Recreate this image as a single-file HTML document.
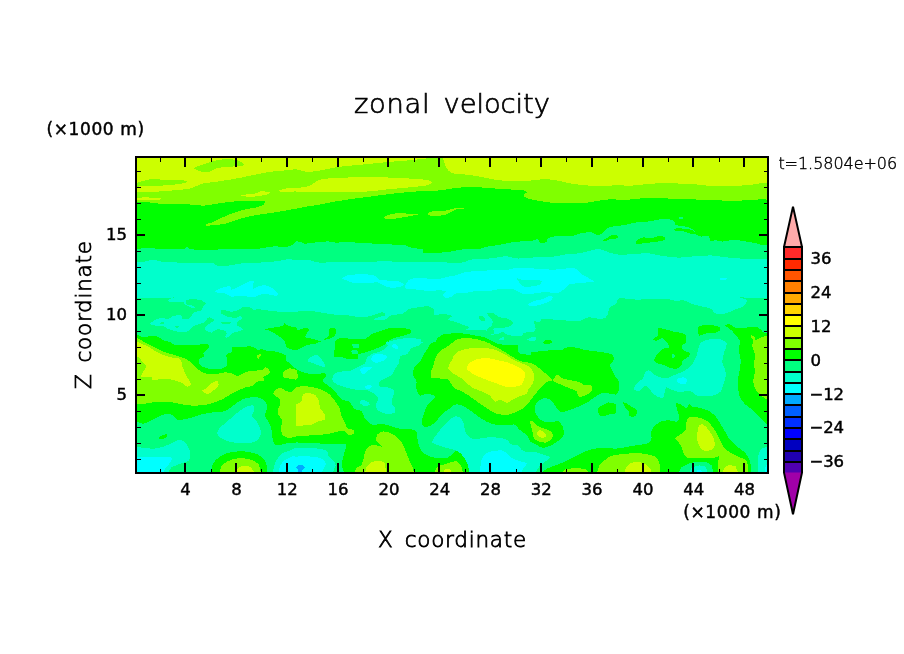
<!DOCTYPE html>
<html lang="en">
<head>
<meta charset="utf-8">
<title>zonal velocity</title>
<style>
html,body{margin:0;padding:0;background:#fff;}
body{width:904px;height:654px;overflow:hidden;}
svg{display:block;}
text{font-family:"DejaVu Sans","Liberation Sans",sans-serif;fill:#000;}
.t{font-weight:200;font-family:"DejaVu Sans Light","DejaVu Sans","Liberation Sans",sans-serif;}
.s2{stroke:#000;stroke-width:.4px;}
.s3{stroke:#000;stroke-width:.45px;}
.s4{stroke:#000;stroke-width:.8px;}
.s5{stroke:#000;stroke-width:.7px;}
</style>
</head>
<body>
<svg width="904" height="654" viewBox="0 0 904 654">
<defs><clipPath id="pc"><rect x="136" y="157" width="632" height="316"/></clipPath></defs>
<rect x="0" y="0" width="904" height="654" fill="#fff"/>
<g clip-path="url(#pc)" shape-rendering="crispEdges">
<rect x="136" y="157" width="632" height="316" fill="#00ff80"/>
<path fill="#00ff00" d="M130.0 150.0L132.5 249.0L136.0 249.0C137.5 248.9 143.4 248.2 146.6 248.2C149.8 248.2 155.5 248.5 159.0 248.7C162.5 248.9 167.9 249.4 171.4 249.4C174.9 249.4 181.6 249.4 183.8 249.0C186.0 248.6 186.4 246.4 187.3 246.4C188.2 246.4 187.3 248.5 190.0 249.0C192.7 249.5 202.0 250.3 206.8 250.3C211.6 250.3 219.5 249.2 224.5 249.0C229.5 248.8 237.2 249.1 242.2 249.0C247.2 248.9 255.4 248.9 259.9 248.5C264.4 248.1 270.4 246.6 274.1 246.4C277.8 246.2 283.8 247.2 286.4 246.9C289.0 246.6 291.3 245.3 292.6 244.6C293.9 243.9 294.8 242.0 296.0 241.6C297.2 241.2 300.1 241.7 301.3 242.0C302.5 242.3 302.6 243.7 304.8 243.7C307.0 243.7 314.0 242.6 317.2 242.3C320.4 242.0 325.2 241.3 327.9 241.4C330.6 241.5 334.2 242.8 336.7 242.8C339.2 242.8 342.6 241.6 345.6 241.6C348.6 241.6 353.7 242.5 357.9 242.8C362.1 243.1 370.6 243.4 375.6 243.7C380.6 244.0 389.1 244.3 393.3 244.6C397.5 244.9 403.0 245.0 405.7 245.5C408.4 246.0 410.4 247.7 412.8 248.2C415.2 248.7 421.0 248.4 422.5 249.0C424.0 249.6 421.3 252.1 423.4 252.6C425.5 253.1 434.1 252.7 437.6 252.6C441.1 252.5 445.6 252.5 448.2 252.2C450.8 251.9 453.4 250.9 456.0 250.5C458.6 250.1 463.4 249.2 466.6 249.0C469.8 248.8 476.0 249.4 479.0 249.0C482.0 248.6 485.2 246.9 487.9 246.4C490.6 245.9 495.5 245.6 498.5 245.1C501.5 244.6 506.4 243.3 509.1 242.8C511.8 242.3 514.9 241.8 517.9 241.6C520.9 241.4 527.6 241.4 530.3 241.1C533.0 240.8 536.0 239.1 537.4 239.3C538.8 239.5 538.9 242.4 540.1 242.8C541.3 243.2 545.2 242.6 546.3 242.0C547.4 241.4 546.3 239.3 548.0 238.4C549.7 237.5 555.5 236.1 558.7 235.8C561.9 235.5 568.0 236.6 571.0 236.3C574.0 236.0 577.2 234.1 579.9 233.5C582.6 232.9 588.0 232.0 590.5 232.2C593.0 232.4 595.9 234.8 597.6 234.9C599.3 235.0 601.7 234.0 602.9 233.1C604.1 232.2 605.2 229.6 606.4 228.7C607.6 227.8 610.5 227.3 611.8 226.9C613.1 226.5 614.2 226.3 616.0 226.0C617.8 225.7 622.1 225.6 624.8 225.1C627.5 224.6 632.3 223.0 635.5 222.5C638.7 222.0 644.4 222.0 647.9 221.6C651.4 221.2 657.2 219.6 660.2 219.3C663.2 219.0 667.1 219.0 669.1 219.3C671.1 219.6 673.4 220.8 674.4 221.6C675.4 222.4 674.5 224.4 676.2 225.1C677.9 225.8 684.3 226.2 686.8 226.9C689.3 227.6 692.7 228.9 693.9 229.9C695.1 230.9 694.6 233.1 695.6 234.0C696.6 234.9 699.3 236.3 701.0 236.6C702.7 236.9 706.6 235.2 708.0 235.8C709.4 236.4 709.7 240.5 710.7 241.1C711.7 241.7 713.5 240.1 715.1 240.2C716.7 240.3 720.0 241.6 722.2 241.6C724.4 241.6 728.5 240.4 731.0 240.2C733.5 240.0 737.4 240.2 739.9 240.5C742.4 240.8 746.2 241.6 748.7 242.0C751.2 242.4 755.6 243.2 757.6 243.7C759.6 244.2 761.7 245.4 762.9 245.5C764.1 245.6 765.9 244.7 766.4 244.6L771.8 244.6L775.0 150.0L130.0 150.0Z"/>
<path fill="#80ff00" d="M130.0 150.0L132.5 202.1L136.0 202.1C137.5 202.1 143.6 201.9 146.6 202.1C149.6 202.3 153.7 203.1 157.2 203.4C160.7 203.7 166.9 204.3 171.4 204.4C175.9 204.5 184.6 204.2 189.1 204.4C193.6 204.6 199.6 205.8 203.3 205.7C207.0 205.6 212.1 204.4 215.6 203.9C219.1 203.4 224.3 202.5 228.0 202.1C231.7 201.7 237.2 201.1 242.2 200.9C247.2 200.7 260.4 200.4 263.4 200.9C266.4 201.4 264.4 203.9 263.4 204.8C262.4 205.7 259.4 206.7 256.4 207.4C253.4 208.1 245.7 209.2 242.2 210.1C238.7 211.0 234.6 212.5 231.6 213.6C228.6 214.7 223.7 216.9 221.0 218.1C218.3 219.3 214.1 221.7 212.1 222.5C210.1 223.3 207.5 223.5 206.8 223.9C206.1 224.3 205.8 225.5 206.8 225.7C207.8 225.9 211.4 225.4 213.9 225.1C216.4 224.8 221.5 224.6 224.5 223.9C227.5 223.2 232.1 221.3 235.1 220.4C238.1 219.5 242.2 218.0 245.7 217.2C249.2 216.4 255.4 215.2 259.9 214.5C264.4 213.8 272.5 212.7 277.6 211.9C282.7 211.1 291.9 209.4 296.0 208.7C300.1 208.0 303.1 207.2 306.6 206.6C310.1 206.0 316.8 205.1 320.8 204.4C324.8 203.7 330.2 202.4 334.9 201.6C339.6 200.8 348.7 199.4 354.4 198.6C360.1 197.8 369.9 196.6 375.6 195.9C381.3 195.2 389.4 193.9 395.1 193.3C400.8 192.7 410.4 191.9 416.4 191.5C422.3 191.1 432.1 191.1 437.6 190.6C443.1 190.1 451.9 188.5 456.0 188.0C460.1 187.5 463.1 187.2 466.6 187.1C470.1 187.0 476.8 187.2 480.8 187.4C484.8 187.6 490.9 188.2 494.9 188.5C498.9 188.8 505.1 189.1 509.1 189.4C513.1 189.7 520.8 189.9 523.3 190.3C525.8 190.7 526.8 191.7 526.8 192.4C526.8 193.1 523.3 194.3 523.3 195.1C523.3 195.9 524.6 197.3 526.8 198.1C529.0 198.9 535.2 200.2 539.2 200.9C543.2 201.6 550.6 202.7 555.1 203.0C559.6 203.3 566.5 203.4 571.0 203.4C575.5 203.4 583.3 203.0 587.0 202.7C590.7 202.3 594.6 201.3 597.6 200.9C600.6 200.5 605.6 199.7 608.2 199.5C610.8 199.3 612.9 199.5 616.0 199.5C619.1 199.5 626.2 199.7 630.2 199.5C634.2 199.3 640.1 198.3 644.3 198.1C648.5 197.9 655.5 198.0 660.2 198.1C664.9 198.2 672.9 198.9 677.9 199.1C682.9 199.3 690.6 199.4 695.6 199.5C700.6 199.6 708.3 199.6 713.3 199.8C718.3 200.0 726.8 201.1 731.0 201.2C735.2 201.3 739.7 200.6 743.4 200.4C747.1 200.2 754.4 199.6 757.6 199.5C760.8 199.4 765.2 199.5 766.4 199.5L771.8 199.5L775.0 150.0L130.0 150.0Z"/>
<path fill="#80ff00" d="M384.1 217.2C384.6 216.6 387.5 215.1 389.8 214.5C392.1 213.9 397.7 212.9 400.4 212.8C403.1 212.7 406.7 213.8 409.3 214.0C411.9 214.2 419.0 213.7 419.0 214.0C419.0 214.3 412.6 215.7 409.3 216.3C406.0 216.9 398.3 218.2 395.1 218.6C391.9 219.0 387.8 219.1 386.3 218.9C384.8 218.7 383.6 217.8 384.1 217.2Z"/>
<path fill="#80ff00" d="M428.7 212.2C429.9 211.6 435.1 211.2 437.6 211.0C440.1 210.8 443.8 210.9 446.4 210.5C449.0 210.1 453.7 208.4 456.0 208.0C458.3 207.6 462.1 207.7 463.1 207.8C464.1 207.9 464.1 208.7 463.1 208.9C462.1 209.1 458.3 208.6 456.0 209.4C453.7 210.2 449.0 213.6 446.4 214.5C443.8 215.4 440.0 215.7 437.6 215.8C435.2 215.9 430.3 215.9 429.1 215.4C427.9 214.9 427.5 212.8 428.7 212.2Z"/>
<path fill="#ccff00" d="M130.0 150.0L432.3 150.0L432.3 157.0C432.0 157.1 433.5 157.5 430.5 157.9C427.5 158.3 416.0 159.7 411.0 160.2C406.0 160.7 400.1 161.0 395.1 161.4C390.1 161.8 380.8 162.7 375.6 163.2C370.4 163.7 362.9 164.5 357.9 165.0C352.9 165.5 345.4 166.0 340.2 166.7C335.0 167.4 325.3 169.6 320.8 170.3C316.3 171.0 311.9 172.1 308.4 172.0C304.9 171.9 299.1 169.6 296.0 169.4C292.9 169.2 290.2 169.9 286.4 170.3C282.6 170.7 273.7 171.3 268.7 172.0C263.7 172.7 256.0 174.6 251.0 175.6C246.0 176.6 238.3 178.2 233.3 179.1C228.3 180.0 219.8 181.2 215.6 181.8C211.4 182.4 206.0 182.9 203.3 183.5C200.6 184.1 198.2 185.4 196.2 186.2C194.2 187.0 191.3 188.4 189.1 188.9C186.9 189.4 182.7 189.5 180.2 189.7C177.7 189.9 174.4 190.3 171.4 190.6C168.4 190.9 162.5 191.3 159.0 191.5C155.5 191.7 149.8 191.9 146.6 191.9C143.4 191.9 137.5 191.6 136.0 191.5L132.5 191.5L130.0 150.0Z"/>
<path fill="#80ff00" d="M132.5 183.2L136.0 183.2C137.0 182.9 140.9 181.5 143.1 180.9C145.3 180.3 149.2 179.3 151.9 179.1C154.6 178.9 159.8 179.6 162.5 179.7C165.2 179.8 168.7 179.7 171.4 179.7C174.1 179.7 179.8 179.7 182.0 180.0C184.2 180.3 187.3 181.3 187.3 181.8C187.3 182.3 184.2 183.1 182.0 183.5C179.8 183.9 174.6 184.7 171.4 185.0C168.2 185.3 162.5 185.5 159.0 185.7C155.5 185.9 149.8 186.1 146.6 186.2C143.4 186.3 137.5 186.6 136.0 186.7L132.5 186.7L132.5 183.2Z"/>
<path fill="#80ff00" d="M194.4 167.6C195.9 166.7 203.3 164.3 206.8 163.2C210.3 162.1 215.2 160.2 219.2 159.7C223.2 159.2 231.6 159.1 235.1 159.7C238.6 160.3 243.3 163.2 244.0 164.1C244.7 165.0 242.6 165.8 240.4 166.2C238.2 166.6 231.5 166.4 228.0 166.7C224.5 167.0 218.3 167.8 215.6 168.5C212.9 169.2 210.6 171.6 208.6 172.0C206.6 172.4 203.2 171.8 201.5 171.5C199.8 171.2 197.2 170.2 196.2 169.7C195.2 169.2 192.9 168.5 194.4 167.6Z"/>
<path fill="#ccff00" d="M241.3 195.1C243.0 194.7 253.8 193.8 256.4 193.3C259.0 192.8 258.1 191.7 259.9 191.5C261.7 191.3 268.6 191.6 269.6 192.0C270.6 192.4 269.4 193.8 267.0 194.5C264.6 195.2 256.0 196.5 252.8 196.8C249.6 197.1 245.6 196.5 244.0 196.3C242.4 196.1 239.6 195.5 241.3 195.1Z"/>
<path fill="#ccff00" d="M132.5 197.7L146.6 197.4C148.6 197.5 159.1 197.8 160.8 198.1C162.5 198.4 161.0 199.5 159.0 199.8C157.0 200.1 148.3 200.3 146.6 200.4L132.5 200.4L132.5 197.7Z"/>
<path fill="#ccff00" d="M279.4 190.3C280.1 189.8 284.1 188.8 286.4 188.5C288.7 188.2 292.9 188.3 296.0 188.0C299.1 187.7 305.2 187.3 308.4 186.2C311.6 185.1 315.8 181.1 319.0 180.0C322.2 178.9 326.4 178.6 331.4 178.2C336.4 177.8 347.0 177.5 354.4 177.4C361.8 177.3 376.6 177.2 384.5 177.4C392.4 177.6 405.1 178.2 411.0 178.6C416.9 179.0 424.0 179.4 427.0 180.0C430.0 180.6 432.3 182.0 432.3 182.7C432.3 183.4 430.2 184.6 427.0 185.3C423.8 186.0 415.2 186.8 409.3 187.4C403.4 188.0 390.4 189.1 384.5 189.7C378.6 190.3 373.0 191.2 366.8 191.5C360.6 191.8 347.1 191.9 340.2 192.0C333.3 192.1 321.9 192.3 317.2 192.4C312.5 192.5 309.6 192.5 306.6 192.4C303.6 192.3 299.6 191.6 296.0 191.5C292.4 191.4 283.4 192.1 281.1 191.9C278.8 191.7 278.7 190.8 279.4 190.3Z"/>
<path fill="#ccff00" d="M443.0 150.0L442.9 157.0C443.2 158.0 444.0 162.2 444.7 164.1C445.4 166.0 447.2 169.1 448.2 170.3C449.2 171.5 450.7 172.4 451.8 172.9C452.9 173.4 453.9 173.5 456.0 173.8C458.1 174.1 463.4 174.3 466.6 174.7C469.8 175.1 475.5 175.9 479.0 176.5C482.5 177.1 487.7 178.5 491.4 179.1C495.1 179.7 501.4 180.6 505.6 180.9C509.8 181.2 517.3 181.5 521.5 181.4C525.7 181.3 532.1 180.3 535.6 180.0C539.1 179.7 543.1 179.0 546.3 179.1C549.5 179.2 555.2 180.3 558.7 180.9C562.2 181.5 567.3 182.9 571.0 183.5C574.7 184.1 581.0 184.9 585.2 185.3C589.4 185.7 596.8 186.2 601.1 186.2C605.4 186.2 611.9 185.4 616.0 185.3C620.1 185.2 626.2 185.8 630.2 185.7C634.2 185.6 640.1 184.8 644.3 184.4C648.5 184.1 655.5 183.3 660.2 183.2C664.9 183.1 672.9 183.3 677.9 183.5C682.9 183.7 690.6 184.0 695.6 184.4C700.6 184.8 708.3 185.9 713.3 186.2C718.3 186.5 726.0 186.4 731.0 186.2C736.0 186.0 744.5 185.4 748.7 185.0C752.9 184.6 759.4 183.5 761.1 183.2L771.8 182.7L775.0 150.0L443.0 150.0Z"/>
<path fill="#80ff00" d="M486.1 155.2L503.8 155.2L502.9 158.2C500.7 158.2 489.2 158.1 487.0 158.1L486.1 155.2Z"/>
<path fill="#00ff00" d="M602.9 240.2C603.3 239.7 607.0 238.2 608.2 237.5C609.4 236.8 610.5 235.1 611.8 234.9C613.1 234.7 617.0 235.4 617.8 235.8C618.6 236.2 618.9 237.6 617.8 238.1C616.7 238.6 611.7 238.9 610.0 239.3C608.3 239.7 606.6 241.0 605.6 241.1C604.6 241.2 602.5 240.7 602.9 240.2Z"/>
<path fill="#00ff00" d="M635.8 241.6C636.5 240.7 640.3 238.0 642.5 237.5C644.7 237.0 648.9 238.3 651.4 238.1C653.9 237.9 658.3 235.9 660.2 235.8C662.1 235.7 664.7 236.9 665.2 237.5C665.7 238.1 665.2 239.6 663.8 240.2C662.4 240.8 657.4 241.6 654.9 242.0C652.4 242.4 648.6 242.5 646.1 242.8C643.6 243.1 638.6 244.3 637.2 244.1C635.8 243.9 635.1 242.5 635.8 241.6Z"/>
<path fill="#00ff00" d="M132.5 333.7L136.0 333.7C137.0 334.2 140.6 337.0 143.1 337.3C145.6 337.6 151.5 335.5 153.7 335.5C155.9 335.5 157.5 336.6 159.0 337.3C160.5 338.0 162.8 340.2 164.3 340.8C165.8 341.4 168.4 341.2 169.6 341.7C170.8 342.2 171.7 343.8 173.2 344.3C174.7 344.8 177.2 345.1 180.2 345.2C183.2 345.3 190.7 345.4 194.4 345.2C198.1 345.0 204.8 343.7 206.8 344.0C208.8 344.3 209.1 346.4 208.6 347.6C208.1 348.8 203.9 351.7 203.3 352.9C202.7 354.1 204.6 355.6 204.1 356.5C203.6 357.4 200.4 358.1 199.7 359.1C199.0 360.1 198.3 362.4 198.8 363.5C199.3 364.6 201.7 366.3 203.3 367.1C204.9 367.9 208.1 368.6 210.3 368.9C212.5 369.2 217.0 369.6 219.2 369.2C221.4 368.8 225.2 367.5 226.3 366.2C227.4 364.9 227.2 361.6 227.2 360.0C227.2 358.4 225.7 355.8 226.3 354.7C226.9 353.6 230.7 353.0 231.6 352.0C232.5 351.0 231.0 348.0 232.5 347.3C234.0 346.6 239.4 346.8 242.2 346.7C245.0 346.6 250.6 346.2 252.8 346.7C255.0 347.2 256.9 350.0 258.1 350.3C259.3 350.6 260.5 348.9 261.7 349.0C262.9 349.1 265.3 350.5 267.0 350.8C268.7 351.1 272.1 350.8 274.1 351.2C276.1 351.6 279.4 352.7 281.1 353.3C282.8 353.9 285.8 354.7 286.4 355.6C287.0 356.5 285.1 358.9 285.6 360.0C286.1 361.1 288.5 362.3 290.0 363.5C291.5 364.7 294.2 367.7 296.0 368.9C297.8 370.1 300.6 371.7 303.1 372.4C305.6 373.1 310.7 374.1 313.7 374.2C316.7 374.3 322.6 373.0 324.3 373.3C326.0 373.6 326.4 375.2 326.1 376.3C325.8 377.4 322.0 379.8 322.5 381.2C323.0 382.6 327.6 384.9 329.6 386.6C331.6 388.3 335.0 391.8 336.7 393.6C338.4 395.4 340.3 398.7 342.0 399.8C343.7 400.9 347.4 400.4 349.1 401.6C350.8 402.8 352.7 407.3 354.4 408.7C356.1 410.1 360.0 409.9 361.5 411.3C363.0 412.7 363.5 416.5 365.0 418.4C366.5 420.3 369.6 423.8 372.1 424.6C374.6 425.4 380.0 423.8 382.7 424.1C385.4 424.4 389.1 425.7 391.6 426.4C394.1 427.1 397.7 428.6 400.4 429.0C403.1 429.4 408.8 428.6 411.0 429.0C413.2 429.4 415.5 430.6 416.4 431.7C417.3 432.8 417.0 435.5 417.2 437.0C417.4 438.5 417.7 441.0 418.1 442.5C418.5 444.0 419.2 446.3 419.9 447.8C420.6 449.3 421.9 451.9 423.4 453.1C424.9 454.3 428.3 455.9 430.5 456.6C432.7 457.3 436.9 458.3 439.4 458.4C441.9 458.5 445.9 458.6 448.2 457.5C450.5 456.4 454.2 451.0 456.0 450.5C457.8 450.0 459.9 452.6 461.3 454.0C462.7 455.4 464.7 458.5 465.7 460.2C466.7 461.9 467.9 464.8 468.4 466.4C468.9 468.0 469.2 471.0 469.3 471.7L469.3 476.1L343.8 476.1L343.8 471.7C343.5 470.8 342.1 467.4 342.0 465.5C341.9 463.6 342.5 460.4 342.9 458.4C343.3 456.4 344.3 453.3 344.7 451.3C345.1 449.3 347.5 445.3 345.6 444.3C343.7 443.3 335.4 444.0 331.4 443.9C327.4 443.8 320.7 443.6 317.2 443.4C313.7 443.2 309.6 442.9 306.6 442.8C303.6 442.7 298.8 442.4 296.0 442.5C293.2 442.6 289.2 443.0 286.4 443.4C283.6 443.8 277.8 446.0 275.8 445.1C273.8 444.2 272.9 439.3 272.3 437.0C271.7 434.7 271.9 431.1 271.4 429.0C270.9 426.9 269.6 423.7 268.7 422.0C267.8 420.3 265.6 418.1 265.2 416.6C264.8 415.1 265.8 412.9 266.1 411.3C266.4 409.7 267.4 406.7 267.0 405.1C266.6 403.5 264.9 400.9 263.4 399.8C261.9 398.7 258.9 397.4 256.4 397.2C253.9 397.0 248.2 397.5 245.7 398.1C243.2 398.7 240.7 400.4 238.7 401.6C236.7 402.8 233.6 405.5 231.6 406.9C229.6 408.3 227.0 410.6 224.5 411.3C222.0 412.0 216.9 411.8 213.9 412.2C210.9 412.6 206.0 413.4 203.3 414.0C200.6 414.6 196.6 415.9 194.4 416.6C192.2 417.3 189.7 418.4 187.3 418.8C184.9 419.2 179.6 420.2 177.6 419.8C175.6 419.4 174.6 416.7 173.2 415.8C171.8 414.9 169.4 413.6 167.9 413.5C166.4 413.4 164.2 414.2 162.5 414.9C160.8 415.6 157.5 417.4 155.5 418.4C153.5 419.4 150.1 421.3 148.4 422.0C146.7 422.7 144.8 423.8 143.1 423.7C141.4 423.6 137.0 421.9 136.0 421.6L132.5 421.6L132.5 333.7Z"/>
<path fill="#00ff00" d="M334.1 356.5C333.4 355.2 334.7 349.9 334.9 347.6C335.1 345.3 334.8 341.2 335.8 339.9C336.8 338.6 339.4 338.3 342.0 338.2C344.6 338.1 351.2 338.9 354.4 339.0C357.6 339.1 362.5 339.7 365.0 339.0C367.5 338.3 369.9 334.8 372.1 333.7C374.3 332.6 378.8 331.8 381.0 331.1C383.2 330.4 385.3 328.8 388.0 328.4C390.7 328.0 397.4 328.0 400.4 328.1C403.4 328.2 407.8 328.6 409.3 329.3C410.8 330.0 411.7 331.9 411.0 332.8C410.3 333.7 406.0 334.9 404.0 335.5C402.0 336.1 398.9 336.7 396.9 337.3C394.9 337.9 391.5 339.0 389.8 339.9C388.1 340.8 384.5 343.4 384.5 343.5C384.5 343.6 390.1 340.2 389.8 340.5C389.5 340.8 384.9 344.6 382.7 345.8C380.5 347.0 376.6 348.4 373.9 349.4C371.2 350.4 365.5 352.2 363.3 352.9C361.1 353.6 358.7 353.8 357.9 354.7C357.1 355.6 359.1 358.5 357.9 359.1C356.7 359.7 351.6 359.4 349.1 359.1C346.6 358.8 342.3 357.2 340.2 356.8C338.1 356.4 334.8 357.8 334.1 356.5Z"/>
<path fill="#00ff80" d="M352.6 344.1C353.3 343.7 357.9 343.9 358.8 344.4C359.7 344.9 359.5 347.2 358.8 347.6C358.1 348.0 354.4 348.1 353.5 347.6C352.6 347.1 351.9 344.5 352.6 344.1Z"/>
<path fill="#00ff80" d="M351.8 350.3C352.6 349.9 357.1 350.3 357.9 350.8C358.7 351.3 358.4 353.4 357.6 353.8C356.8 354.2 353.1 354.3 352.3 353.8C351.5 353.3 351.0 350.7 351.8 350.3Z"/>
<path fill="#00ff00" d="M265.2 329.3C265.7 328.8 271.6 328.0 274.1 327.5C276.6 327.0 281.4 326.4 282.9 325.8C284.4 325.2 284.0 323.1 284.7 323.1C285.4 323.1 286.6 325.2 288.2 325.8C289.8 326.4 294.7 326.9 296.0 327.5C297.3 328.1 296.8 330.1 297.8 330.2C298.8 330.3 301.5 328.6 303.1 328.4C304.7 328.2 308.8 328.1 309.3 328.8C309.8 329.5 307.1 332.5 306.6 333.7C306.1 334.9 304.7 336.6 305.7 337.3C306.7 338.0 311.6 338.4 313.7 339.0C315.8 339.6 319.8 341.4 320.8 341.7C321.8 342.0 321.5 340.6 320.8 340.9C320.1 341.2 317.5 343.1 315.5 343.7C313.5 344.3 308.6 344.4 306.6 345.0C304.6 345.6 302.8 347.3 301.3 348.0C299.8 348.7 297.3 350.1 296.0 350.3C294.7 350.5 293.1 349.8 291.8 349.4C290.5 349.0 287.4 348.3 286.4 347.1C285.4 345.9 285.9 342.5 284.7 340.9C283.5 339.3 279.6 336.9 277.6 335.5C275.6 334.1 272.2 332.0 270.5 331.1C268.8 330.2 264.7 329.8 265.2 329.3Z"/>
<path fill="#00ff00" d="M329.6 328.8C330.5 327.8 334.4 327.7 335.3 328.4C336.2 329.1 336.0 332.6 335.8 333.7C335.6 334.8 335.1 335.7 334.1 336.4C333.1 337.1 330.1 338.6 328.7 339.0C327.3 339.4 324.3 339.9 324.3 339.4C324.3 338.9 328.0 337.0 328.7 335.5C329.4 334.0 328.7 329.8 329.6 328.8Z"/>
<path fill="#00ff00" d="M428.7 347.0C429.2 346.2 429.5 344.2 430.5 343.5C431.5 342.8 434.8 342.4 435.8 341.7C436.8 341.0 436.6 339.2 437.6 338.2C438.6 337.2 440.9 335.3 442.9 334.6C444.9 333.9 450.0 333.7 451.8 333.4C453.6 333.1 454.2 332.8 456.0 332.8C457.8 332.8 462.1 333.3 464.8 333.7C467.5 334.1 472.8 335.0 475.5 335.5C478.2 336.0 482.1 336.6 484.3 337.3C486.5 338.0 489.4 339.9 491.4 340.8C493.4 341.7 496.0 343.4 498.5 344.0C501.0 344.6 506.4 345.0 509.1 345.2C511.8 345.4 516.5 344.1 517.9 345.2C519.3 346.3 517.1 351.6 518.8 352.9C520.5 354.2 528.4 354.8 530.3 354.7C532.2 354.6 530.1 352.5 532.1 352.0C534.1 351.5 541.8 351.5 544.5 351.2C547.2 350.9 549.1 349.9 551.6 349.7C554.1 349.5 560.2 350.0 562.2 349.7C564.2 349.4 563.7 347.9 565.7 347.6C567.7 347.3 573.9 347.3 576.4 347.6C578.9 347.9 580.9 349.2 583.4 349.7C585.9 350.2 591.1 350.8 594.1 351.2C597.1 351.6 602.1 352.1 604.7 352.6C607.3 353.1 611.4 353.7 612.6 354.7C613.8 355.7 613.9 358.5 613.5 360.0C613.1 361.5 610.2 363.9 610.0 365.3C609.8 366.7 611.0 368.0 611.8 369.7C612.6 371.4 615.0 376.1 616.0 377.7C617.0 379.3 618.3 379.5 618.7 381.2C619.1 382.9 619.1 388.2 618.7 390.1C618.3 392.0 617.2 394.0 616.0 394.5C614.8 395.0 611.8 393.8 610.0 393.6C608.2 393.4 604.9 392.4 602.9 392.8C600.9 393.2 597.8 395.1 595.8 396.3C593.8 397.5 590.9 400.2 588.7 401.6C586.5 403.0 582.4 404.9 579.9 406.0C577.4 407.1 573.5 408.7 571.0 409.6C568.5 410.5 564.0 412.2 562.2 412.2C560.4 412.2 558.9 410.7 557.8 409.6C556.7 408.5 555.2 405.7 554.2 404.3C553.2 402.9 552.1 400.7 550.7 399.8C549.3 398.9 546.1 398.0 544.5 398.1C542.9 398.2 540.6 399.6 539.2 400.7C537.8 401.8 535.3 404.3 534.8 406.0C534.3 407.7 535.0 411.4 535.6 413.1C536.2 414.8 538.0 417.2 539.2 418.4C540.4 419.6 542.6 421.5 544.5 422.0C546.4 422.5 550.6 422.4 552.5 422.3C554.4 422.2 556.4 420.7 557.8 421.1C559.2 421.5 561.3 424.0 562.2 425.5C563.1 427.0 563.7 431.1 564.0 431.7C564.3 432.3 564.4 429.5 564.3 430.1C564.2 430.7 563.9 434.8 563.1 436.3C562.3 437.8 560.3 439.5 558.7 440.7C557.1 441.9 553.8 444.1 551.6 445.1C549.4 446.1 544.9 447.9 542.7 447.8C540.5 447.7 537.3 445.2 535.6 444.3C533.9 443.4 531.3 442.5 530.3 441.6C529.3 440.7 529.1 439.0 528.6 438.1C528.1 437.2 528.2 436.5 526.8 435.2C525.4 433.9 520.5 430.5 518.8 429.0C517.1 427.5 516.5 425.1 514.4 424.6C512.3 424.1 507.0 425.6 503.8 425.5C500.6 425.4 494.4 424.6 491.4 423.7C488.4 422.8 485.0 420.8 482.5 419.3C480.0 417.8 476.2 414.8 473.7 413.1C471.2 411.4 467.3 408.1 464.8 406.9C462.3 405.7 458.3 403.9 456.0 404.3C453.7 404.7 450.3 408.1 448.2 409.6C446.1 411.1 442.8 413.2 441.1 414.9C439.4 416.6 437.5 420.4 435.8 422.0C434.1 423.6 430.4 425.8 428.7 426.4C427.0 427.0 424.4 427.0 423.4 426.4C422.4 425.8 421.7 423.6 421.7 422.0C421.7 420.4 422.7 417.1 423.4 414.9C424.1 412.7 425.8 408.0 427.0 406.0C428.2 404.0 431.2 402.1 432.3 400.7C433.4 399.3 435.6 397.3 434.9 396.3C434.2 395.3 429.1 393.7 427.0 393.6C424.9 393.5 421.4 396.1 419.9 395.4C418.4 394.7 416.9 390.3 416.4 388.3C415.9 386.3 416.9 383.2 416.4 381.2C415.9 379.2 413.1 376.2 412.8 374.2C412.5 372.2 413.6 368.8 414.6 367.1C415.6 365.4 418.7 363.5 419.9 361.8C421.1 360.1 422.4 356.4 423.4 354.7C424.4 353.0 426.3 350.5 427.0 349.4C427.7 348.3 428.2 347.8 428.7 347.0Z"/>
<path fill="#00ff00" d="M598.5 413.1C598.1 412.1 597.0 409.8 597.6 408.7C598.2 407.6 601.4 406.0 602.9 405.1C604.4 404.2 606.7 402.7 608.2 402.5C609.7 402.3 612.4 403.0 613.5 403.4C614.6 403.8 615.6 403.7 616.0 405.1C616.4 406.5 616.8 411.9 616.0 413.1C615.2 414.3 611.6 413.6 610.0 414.0C608.4 414.4 606.1 415.5 604.7 415.8C603.3 416.1 601.1 416.2 600.2 415.8C599.3 415.4 598.9 414.1 598.5 413.1Z"/>
<path fill="#00ff00" d="M623.1 402.5C623.4 402.0 625.4 402.8 626.6 403.4C627.8 404.0 630.5 406.0 631.9 406.9C633.3 407.8 635.7 408.6 636.4 409.6C637.1 410.6 637.3 413.0 636.9 414.0C636.5 415.0 634.8 416.3 633.7 416.6C632.6 416.9 630.0 416.7 629.3 415.8C628.6 414.9 629.0 411.7 628.4 410.5C627.8 409.3 625.5 408.0 624.8 406.9C624.1 405.8 622.8 403.0 623.1 402.5Z"/>
<path fill="#00ff00" d="M543.1 342.2C543.4 341.6 545.2 340.1 546.3 339.9C547.4 339.7 550.0 340.1 550.7 340.5C551.4 340.9 552.0 342.1 551.6 342.6C551.2 343.1 549.0 343.8 548.0 344.0C547.0 344.2 545.2 344.3 544.5 344.0C543.8 343.7 542.8 342.8 543.1 342.2Z"/>
<path fill="#00ff00" d="M653.2 339.0C653.3 338.3 656.9 337.0 657.6 335.5C658.3 334.0 657.1 329.2 658.5 328.4C659.9 327.6 665.1 329.3 667.3 329.8C669.5 330.3 672.4 331.6 674.4 332.0C676.4 332.4 679.9 332.3 681.5 332.8C683.1 333.3 685.3 334.1 685.9 335.5C686.5 336.9 685.9 341.6 685.9 342.6C685.9 343.6 686.5 341.7 685.9 342.3C685.3 342.9 681.9 345.6 681.5 346.7C681.1 347.8 682.2 349.4 683.3 350.3C684.4 351.2 688.8 352.0 689.5 352.9C690.2 353.8 689.6 355.4 688.6 356.5C687.6 357.6 683.4 359.7 682.4 360.9C681.4 362.1 682.4 364.2 681.5 365.3C680.6 366.4 677.9 368.6 676.2 368.9C674.5 369.2 671.1 368.0 669.1 367.4C667.1 366.8 663.7 365.0 662.0 364.4C660.3 363.8 657.8 363.8 656.7 363.2C655.6 362.6 654.1 361.2 654.1 360.0C654.1 358.8 655.3 356.3 656.7 354.7C658.1 353.1 662.1 349.5 663.8 348.5C665.5 347.5 668.6 348.4 669.1 347.6C669.6 346.8 668.3 343.9 667.3 342.6C666.3 341.3 663.5 338.5 662.0 338.2C660.5 337.9 657.9 340.7 656.7 340.8C655.5 340.9 653.1 339.7 653.2 339.0Z"/>
<path fill="#00ff80" d="M671.8 354.7C672.2 354.3 674.0 354.3 674.4 354.7C674.8 355.1 674.8 357.0 674.4 357.4C674.0 357.8 672.2 357.8 671.8 357.4C671.4 357.0 671.4 355.1 671.8 354.7Z"/>
<path fill="#00ff00" d="M698.3 327.0C699.5 325.5 705.1 325.0 708.0 324.9C710.9 324.8 717.0 325.9 718.7 326.6C720.4 327.3 720.9 328.9 720.4 329.8C719.9 330.7 717.3 332.3 715.1 332.8C712.9 333.3 706.7 333.3 704.5 333.7C702.3 334.1 700.1 336.4 699.2 335.5C698.3 334.6 697.1 328.5 698.3 327.0Z"/>
<path fill="#00ff00" d="M724.8 325.8C724.8 325.2 727.7 323.7 729.3 324.0C730.9 324.3 733.9 327.6 736.4 328.1C738.9 328.6 744.0 327.6 747.0 327.5C750.0 327.4 755.4 326.9 757.6 327.5C759.8 328.1 762.2 331.4 762.9 332.0L771.8 335.5L771.8 427.4L767.3 424.6C766.9 424.2 765.8 423.1 764.7 422.0C763.6 420.9 761.1 418.3 759.4 416.6C757.7 414.9 754.3 411.3 752.3 409.6C750.3 407.9 746.9 406.0 745.2 404.3C743.5 402.6 740.9 399.4 739.9 397.2C738.9 395.0 738.4 391.0 738.1 388.3C737.8 385.6 737.8 380.4 738.1 377.7C738.4 375.0 739.5 371.4 739.9 368.9C740.3 366.4 740.9 362.5 740.8 360.0C740.7 357.5 739.1 353.7 739.0 351.2C738.9 348.7 739.8 343.8 739.9 342.3C740.0 340.8 740.6 342.0 739.9 340.8C739.2 339.6 736.1 335.4 734.6 333.7C733.1 332.0 730.7 329.5 729.3 328.4C727.9 327.3 724.8 326.4 724.8 325.8Z"/>
<path fill="#80ff00" d="M750.5 335.5C750.6 334.9 753.4 335.8 754.1 336.4C754.8 337.0 754.8 339.8 755.8 339.9C756.8 340.0 760.4 337.7 761.1 337.3L771.8 334.6L771.8 402.7L767.3 399.8C766.4 399.2 762.7 396.8 761.1 395.4C759.5 394.0 756.9 392.1 755.8 390.1C754.7 388.1 753.3 383.7 753.2 381.2C753.1 378.7 754.8 374.9 754.9 372.4C755.0 369.9 754.1 366.0 754.1 363.5C754.1 361.0 755.2 357.2 754.9 354.7C754.6 352.2 752.5 347.7 752.3 345.8C752.1 343.9 753.5 342.2 753.2 340.8C752.9 339.4 750.4 336.1 750.5 335.5Z"/>
<path fill="#00ff00" d="M542.7 476.1L542.7 471.7C543.4 471.2 546.3 469.1 548.0 468.2C549.7 467.3 552.9 466.4 555.1 465.5C557.3 464.6 561.8 463.0 564.0 462.0C566.2 461.0 569.0 459.4 571.0 458.4C573.0 457.4 576.1 455.9 578.1 454.9C580.1 453.9 583.0 452.2 585.2 451.3C587.4 450.4 591.4 449.2 594.1 448.7C596.8 448.2 601.6 447.8 604.7 447.8C607.8 447.8 612.9 448.8 616.0 448.7C619.1 448.6 623.6 447.4 626.6 446.9C629.6 446.4 634.2 445.6 637.2 445.1C640.2 444.6 645.9 444.3 647.9 443.4C649.9 442.5 650.9 440.6 651.4 438.9C651.9 437.2 650.8 433.0 651.4 431.0C652.0 429.0 654.3 426.2 655.8 424.8C657.3 423.4 660.1 421.8 662.0 421.2C663.9 420.6 667.0 420.3 669.1 420.4C671.2 420.5 675.7 422.1 677.1 421.6C678.5 421.1 679.4 418.5 679.4 416.8C679.4 415.1 677.5 411.6 677.1 409.7C676.7 407.8 675.7 404.2 676.2 403.5C676.7 402.8 679.1 403.8 680.6 404.4C682.1 405.0 685.6 408.1 686.8 408.0C688.0 407.9 688.8 403.7 689.5 403.5C690.2 403.3 690.5 406.0 692.1 406.6C693.7 407.2 698.5 407.3 701.0 408.0C703.5 408.7 707.7 410.3 709.8 411.5C711.9 412.7 714.5 415.1 716.0 416.8C717.5 418.5 719.2 421.9 720.4 423.9C721.6 425.9 723.6 428.9 724.8 431.0C726.0 433.1 727.7 436.8 729.3 438.9C730.9 441.0 734.4 444.3 736.4 446.0C738.4 447.7 741.8 449.8 743.4 451.3C745.0 452.8 746.9 454.9 747.9 456.6C748.9 458.3 750.0 461.6 750.5 463.7C751.0 465.8 751.3 470.6 751.4 471.7L751.4 476.1L542.7 476.1Z"/>
<path fill="#80ff00" d="M675.3 438.1C675.7 436.9 680.0 434.8 681.5 433.6C683.0 432.4 685.2 431.0 685.9 429.2C686.6 427.4 686.2 422.1 686.8 420.4C687.4 418.7 688.6 417.2 690.3 416.8C692.0 416.4 697.0 417.2 699.2 417.7C701.4 418.2 704.6 419.3 706.3 420.4C708.0 421.5 710.2 424.1 711.6 425.7C713.0 427.3 714.9 430.1 716.0 431.9C717.1 433.7 718.4 436.7 719.5 438.9C720.6 441.1 722.4 445.8 724.0 447.8C725.6 449.8 729.0 451.9 731.0 453.1C733.0 454.3 736.0 455.6 738.1 456.6C740.2 457.6 744.7 459.0 746.1 460.2C747.5 461.4 747.6 464.8 747.9 465.5L748.7 476.1L717.8 476.1L717.8 463.7C717.9 462.7 719.6 457.3 718.7 456.6C717.8 455.9 713.6 458.3 711.6 458.4C709.6 458.5 706.7 457.5 704.5 457.5C702.3 457.5 698.1 458.1 695.6 458.1C693.1 458.1 688.5 458.2 686.8 457.5C685.1 456.8 684.0 454.6 683.3 453.1C682.6 451.6 682.1 448.4 681.5 446.9C680.9 445.4 679.7 443.7 678.8 442.5C677.9 441.3 674.9 439.3 675.3 438.1Z"/>
<path fill="#ccff00" d="M697.1 438.1C697.0 436.2 697.5 431.9 697.8 430.1C698.1 428.3 698.4 425.8 699.2 425.1C700.0 424.4 702.4 424.2 703.6 424.8C704.8 425.4 706.9 427.8 708.0 429.2C709.1 430.6 710.7 433.0 711.6 434.5C712.5 436.0 713.8 438.2 714.2 439.8C714.6 441.4 715.2 444.6 714.8 446.0C714.4 447.4 712.8 448.9 711.6 449.6C710.4 450.3 707.8 451.1 706.3 451.0C704.8 450.9 702.1 449.8 701.0 448.7C699.9 447.6 698.8 444.9 698.3 443.4C697.8 441.9 697.2 440.0 697.1 438.1Z"/>
<path fill="#ccff00" d="M722.2 476.1L724.0 468.2C724.7 467.8 727.7 465.4 729.3 465.1C730.9 464.8 734.6 466.2 735.5 466.4L739.9 476.1L722.2 476.1Z"/>
<path fill="#80ff00" d="M595.8 476.1L599.4 465.5C600.1 464.8 603.2 461.4 604.7 460.2C606.2 459.0 608.4 457.3 610.0 456.6C611.6 455.9 613.9 455.3 616.0 454.9C618.1 454.5 622.1 454.3 624.8 454.0C627.5 453.7 632.5 453.1 635.5 453.1C638.5 453.1 643.4 453.5 646.1 454.0C648.8 454.5 653.0 455.5 654.9 456.6C656.8 457.7 658.8 461.2 659.4 462.0L660.2 476.1L595.8 476.1Z"/>
<path fill="#ccff00" d="M623.1 476.1L626.6 466.4C627.3 465.9 630.2 463.4 631.9 462.8C633.6 462.2 637.0 461.7 639.0 462.0C641.0 462.3 644.5 463.6 646.1 464.6C647.7 465.6 649.9 468.4 650.5 469.0L651.4 476.1L623.1 476.1Z"/>
<path fill="#80ff00" d="M556.9 476.1L565.7 469.0C567.2 468.9 573.7 468.2 576.4 468.2C579.1 468.2 584.0 468.9 585.2 469.0L592.3 476.1L556.9 476.1Z"/>
<path fill="#00ff80" d="M677.1 476.1L681.5 467.3C682.5 466.8 686.4 464.5 688.6 463.7C690.8 462.9 694.9 461.8 697.4 461.6C699.9 461.4 704.3 461.5 706.3 462.0C708.3 462.5 710.9 465.0 711.6 465.5L714.2 476.1L677.1 476.1Z"/>
<path fill="#00ffcc" d="M687.7 476.1L692.1 467.3C693.1 467.0 697.3 465.6 699.2 465.5C701.1 465.4 704.5 466.3 705.4 466.4L708.9 476.1L687.7 476.1Z"/>
<path fill="#00ffff" d="M695.6 476.1L697.4 470.5C697.9 470.4 700.8 470.2 701.3 470.1L703.1 476.1L695.6 476.1Z"/>
<path fill="#00ff00" d="M211.2 476.1L212.1 465.5C212.6 464.8 214.1 461.7 215.6 460.2C217.1 458.7 220.5 456.0 222.7 454.9C224.9 453.8 228.9 452.7 231.6 452.2C234.3 451.7 239.2 451.2 242.2 451.3C245.2 451.4 250.3 452.2 252.8 452.8C255.3 453.4 258.2 454.6 259.9 455.8C261.6 457.0 264.2 459.5 265.2 461.1C266.2 462.7 266.7 466.4 267.0 467.3L267.0 476.1L211.2 476.1Z"/>
<path fill="#80ff00" d="M218.8 476.1L221.0 466.4C221.7 465.8 224.3 463.1 226.3 462.0C228.3 460.9 232.6 459.3 235.1 458.8C237.6 458.3 241.5 458.2 244.0 458.4C246.5 458.6 250.7 459.3 252.8 460.2C254.9 461.1 258.1 464.0 259.0 464.6L261.7 476.1L218.8 476.1Z"/>
<path fill="#ccff00" d="M236.0 476.1L237.8 468.2C238.7 467.8 242.2 465.6 244.0 465.5C245.8 465.4 250.0 467.0 251.0 467.3L256.4 476.1L236.0 476.1Z"/>
<path fill="#00ff00" d="M159.0 438.1C159.1 437.5 161.4 435.6 162.5 435.1C163.6 434.6 166.5 434.2 167.0 434.5C167.5 434.8 166.8 436.8 166.1 437.5C165.4 438.2 162.7 439.2 161.7 439.3C160.7 439.4 158.9 438.7 159.0 438.1Z"/>
<path fill="#80ff00" d="M132.5 335.5L136.0 337.0C137.0 337.6 141.1 340.3 143.1 341.4C145.1 342.5 148.2 344.0 150.2 345.0C152.2 346.0 155.2 347.5 157.2 348.5C159.2 349.5 162.1 351.1 164.3 352.0C166.5 352.9 170.7 353.9 173.2 354.7C175.7 355.5 179.8 356.5 182.0 357.4C184.2 358.3 187.4 359.7 189.1 360.9C190.8 362.1 192.9 364.8 194.4 366.2C195.9 367.6 198.0 369.5 199.7 370.6C201.4 371.7 204.6 373.3 206.8 373.8C209.0 374.3 213.1 374.4 215.6 374.2C218.1 374.0 222.3 372.5 224.5 372.4C226.7 372.3 229.9 372.8 231.6 373.3C233.3 373.8 235.4 375.8 236.9 375.9C238.4 376.0 240.7 374.8 242.2 374.2C243.7 373.6 245.5 372.0 247.5 371.5C249.5 371.0 254.3 370.9 256.4 370.6C258.5 370.3 261.3 370.2 262.5 369.7C263.7 369.2 264.3 367.1 265.2 367.1C266.1 367.1 268.1 368.8 268.7 369.7C269.3 370.6 270.3 372.3 269.6 373.3C268.9 374.3 264.1 375.8 263.4 376.8C262.7 377.8 265.0 379.8 264.3 380.4C263.6 381.0 259.7 380.5 258.1 381.2C256.5 381.9 254.5 384.8 252.8 385.7C251.1 386.6 247.7 386.8 245.7 387.4C243.7 388.0 240.7 389.2 238.7 390.1C236.7 391.0 233.6 392.5 231.6 393.6C229.6 394.7 226.7 396.9 224.5 398.1C222.3 399.3 218.1 401.2 215.6 402.1C213.1 403.0 209.8 404.1 206.8 404.6C203.8 405.1 197.9 405.7 194.4 405.7C190.9 405.7 185.2 404.8 182.0 404.3C178.8 403.8 174.6 402.5 171.4 402.1C168.2 401.7 162.5 401.4 159.0 401.6C155.5 401.8 149.8 403.0 146.6 403.4C143.4 403.8 137.5 404.2 136.0 404.3L132.5 404.3L132.5 335.5Z"/>
<path fill="#ccff00" d="M132.5 340.9L136.0 341.4C136.7 341.7 139.6 343.0 141.3 343.7C143.0 344.4 146.4 345.6 148.4 346.7C150.4 347.8 153.5 350.1 155.5 351.2C157.5 352.3 160.3 353.8 162.5 354.7C164.7 355.6 168.9 356.8 171.4 357.4C173.9 358.0 178.7 357.9 180.2 359.1C181.7 360.3 181.8 364.3 182.4 366.2C183.0 368.1 183.8 370.4 184.7 372.4C185.6 374.4 188.2 378.7 189.1 380.4C190.0 382.1 191.2 383.9 190.9 384.8C190.6 385.7 188.8 387.0 187.3 386.6C185.8 386.2 182.4 383.1 180.2 382.1C178.0 381.1 173.9 380.0 171.4 379.5C168.9 379.0 165.1 378.5 162.5 378.6C159.9 378.7 154.4 380.7 152.8 380.4C151.2 380.1 152.6 377.3 151.0 376.8C149.4 376.3 142.3 377.7 141.3 376.8C140.3 375.9 143.3 372.1 144.0 370.6C144.7 369.1 146.7 367.3 146.6 366.2C146.5 365.1 144.1 363.8 143.1 362.7C142.1 361.6 140.3 359.1 139.5 358.2C138.7 357.3 137.7 356.7 137.4 356.5L132.5 356.5L132.5 340.9Z"/>
<path fill="#ccff00" d="M202.4 390.1C202.8 389.5 205.7 389.2 206.8 388.3C207.9 387.4 208.8 384.9 210.3 383.9C211.8 382.9 216.3 380.9 217.4 381.2C218.5 381.5 218.8 384.5 218.3 385.7C217.8 386.9 215.3 389.0 213.9 390.1C212.5 391.2 210.0 393.2 208.6 393.6C207.2 394.0 205.0 393.3 204.1 392.8C203.2 392.3 202.0 390.7 202.4 390.1Z"/>
<path fill="#80ff00" d="M256.9 355.4C257.3 354.7 261.1 353.8 261.3 354.3C261.5 354.8 258.7 358.9 258.1 359.1C257.5 359.3 256.5 356.1 256.9 355.4Z"/>
<path fill="#80ff00" d="M282.9 376.8C282.0 375.8 282.9 372.7 283.8 371.5C284.7 370.3 287.4 368.8 289.1 368.5C290.8 368.2 294.8 368.8 296.0 369.7C297.2 370.6 297.5 374.1 297.8 375.1C298.1 376.1 298.1 376.2 297.8 376.8C297.5 377.4 297.1 379.2 296.0 379.5C294.9 379.8 291.8 379.0 290.0 378.6C288.2 378.2 283.8 377.8 282.9 376.8Z"/>
<path fill="#80ff00" d="M273.2 393.6C273.2 392.6 274.7 389.9 275.8 389.2C276.9 388.5 279.6 388.0 281.1 388.3C282.6 388.6 284.9 390.5 286.4 391.0C287.9 391.5 290.5 392.4 291.8 391.9C293.1 391.4 294.2 388.2 296.0 387.4C297.8 386.6 302.3 386.2 304.8 386.2C307.3 386.2 311.2 386.9 313.7 387.4C316.2 387.9 320.3 389.1 322.5 390.1C324.7 391.1 327.9 393.0 329.6 394.5C331.3 396.0 333.5 398.8 334.9 400.7C336.3 402.6 338.5 405.8 339.4 407.8C340.3 409.8 340.4 412.9 341.1 414.9C341.8 416.9 343.8 420.1 344.7 422.0C345.6 423.9 346.1 427.1 347.3 428.2C348.5 429.3 352.5 429.2 353.5 429.9C354.5 430.6 354.7 432.8 354.1 433.5C353.5 434.2 350.5 435.6 349.1 435.2C347.7 434.8 345.5 431.3 343.8 430.8C342.1 430.3 338.9 431.3 336.7 431.7C334.5 432.1 331.1 433.5 327.9 434.0C324.7 434.5 318.2 434.8 313.7 435.2C309.2 435.6 299.3 436.1 296.0 436.5C292.7 436.9 291.8 438.3 290.0 438.1C288.2 437.9 284.1 436.7 282.9 435.4C281.7 434.1 281.2 431.1 281.1 429.0C281.0 426.9 282.4 422.2 282.0 420.2C281.6 418.2 279.1 416.4 278.5 414.9C277.9 413.4 277.4 411.1 277.6 409.6C277.8 408.1 279.9 405.8 280.2 404.3C280.5 402.8 280.0 400.0 279.4 398.9C278.8 397.8 276.7 397.0 275.8 396.3C274.9 395.6 273.2 394.6 273.2 393.6Z"/>
<path fill="#ccff00" d="M296.4 405.1C296.4 402.3 296.0 404.8 296.7 404.3C297.4 403.8 300.4 403.0 301.3 401.6C302.2 400.2 302.1 395.7 303.1 394.5C304.1 393.3 306.7 392.7 308.4 392.8C310.1 392.9 314.0 394.3 315.5 395.4C317.0 396.5 318.4 399.0 319.0 400.7C319.6 402.4 319.2 405.9 319.9 407.8C320.6 409.7 323.6 412.4 324.3 414.0C325.0 415.6 326.2 418.2 325.2 419.3C324.2 420.4 319.1 420.9 317.2 421.6C315.3 422.3 313.9 424.1 311.9 424.6C309.9 425.1 305.2 425.4 303.1 425.5C301.0 425.6 297.6 425.6 296.7 425.5C295.8 425.4 296.4 427.5 296.4 424.6C296.4 421.7 296.4 407.9 296.4 405.1Z"/>
<path fill="#80ff00" d="M352.6 476.1L356.2 468.2C356.9 467.7 360.4 466.2 361.5 464.6C362.6 463.0 363.5 458.7 364.1 456.6C364.7 454.5 364.8 451.2 365.9 449.6C367.0 448.0 370.2 445.6 372.1 445.1C374.0 444.6 377.7 445.7 379.2 446.0C380.7 446.3 383.1 447.6 382.7 446.9C382.3 446.2 377.2 442.4 376.5 440.7C375.8 439.0 376.5 435.8 377.4 434.5C378.3 433.2 381.0 431.7 382.7 431.5C384.4 431.3 387.8 432.0 389.8 432.8C391.8 433.6 395.2 435.7 396.9 437.2C398.6 438.7 401.0 441.4 402.2 443.4C403.4 445.4 404.7 448.9 405.7 451.3C406.7 453.7 408.3 458.0 409.3 460.2C410.3 462.4 412.3 466.3 412.8 467.3L414.6 476.1L352.6 476.1Z"/>
<path fill="#ccff00" d="M364.1 476.1L366.8 466.4C367.5 465.8 370.4 462.8 372.1 462.0C373.8 461.2 377.5 460.4 379.2 460.5C380.9 460.6 383.8 462.5 384.5 462.8L387.2 476.1L364.1 476.1Z"/>
<path fill="#80ff00" d="M432.3 476.1L437.6 466.4C438.8 466.0 443.8 464.4 446.4 463.7C449.0 463.0 454.2 461.1 456.0 461.1C457.8 461.1 458.6 462.7 459.5 463.7C460.4 464.7 461.8 467.6 462.2 468.2L463.1 476.1L432.3 476.1Z"/>
<path fill="#ccff00" d="M441.1 476.1L444.7 469.4C445.4 469.3 449.3 469.1 450.0 469.0L452.6 476.1L441.1 476.1Z"/>
<path fill="#80ff00" d="M446.4 347.0C447.6 346.2 448.7 345.7 450.0 344.7C451.3 343.7 454.2 340.8 456.0 339.9C457.8 339.0 460.6 338.4 463.1 338.2C465.6 338.0 471.0 338.3 473.7 338.7C476.4 339.1 480.3 340.1 482.5 340.8C484.7 341.5 487.7 342.6 489.6 343.5C491.5 344.4 494.1 346.0 495.8 347.0C497.5 348.0 500.1 349.2 502.0 350.3C503.9 351.4 507.1 353.5 509.1 354.7C511.1 355.9 514.2 358.1 516.2 359.1C518.2 360.1 521.1 361.2 523.3 361.8C525.5 362.4 529.9 362.6 532.1 363.5C534.3 364.4 537.2 366.5 539.2 368.0C541.2 369.5 544.6 372.7 546.3 374.2C548.0 375.7 550.7 377.7 551.6 378.6C552.5 379.5 553.2 379.9 552.5 380.4C551.8 380.9 547.9 381.1 546.3 382.1C544.7 383.1 542.5 385.8 541.0 387.4C539.5 389.0 537.1 391.7 535.6 393.6C534.1 395.5 531.8 398.8 530.3 400.7C528.8 402.6 526.7 405.4 525.0 406.9C523.3 408.4 520.4 410.2 517.9 411.3C515.4 412.4 510.5 414.6 507.3 414.9C504.1 415.2 497.9 414.1 494.9 413.1C491.9 412.1 488.6 409.4 486.1 407.8C483.6 406.2 479.7 403.3 477.2 401.6C474.7 399.9 470.6 396.9 468.4 395.4C466.2 393.9 463.0 391.9 461.3 391.0C459.6 390.1 457.3 390.1 456.0 389.2C454.7 388.3 452.9 386.2 451.8 384.8C450.7 383.4 449.7 380.4 448.2 379.5C446.7 378.6 442.8 378.8 441.1 378.6C439.4 378.4 437.2 378.2 435.8 378.1C434.4 378.0 432.0 378.8 431.4 377.7C430.8 376.6 431.0 372.6 431.4 370.6C431.8 368.6 433.5 365.5 434.1 363.5C434.7 361.5 434.8 358.3 435.8 356.5C436.8 354.7 439.6 351.6 441.1 350.3C442.6 349.0 445.2 347.8 446.4 347.0Z"/>
<path fill="#ccff00" d="M456.0 352.9C457.8 351.4 462.3 350.1 464.8 349.4C467.3 348.7 471.0 348.2 473.7 348.0C476.4 347.8 481.3 347.8 484.3 348.0C487.3 348.2 492.2 348.9 494.9 349.7C497.6 350.5 501.6 352.6 503.8 353.8C506.0 355.0 508.9 357.1 510.9 358.2C512.9 359.3 515.7 360.8 517.9 361.8C520.1 362.8 524.8 364.2 526.8 365.3C528.8 366.4 531.1 368.2 532.1 369.7C533.1 371.2 534.1 374.0 534.2 375.9C534.3 377.8 533.8 381.1 533.0 383.0C532.2 384.9 529.5 387.7 528.6 389.2C527.7 390.7 528.0 392.6 526.8 393.6C525.6 394.6 521.9 395.3 519.7 396.3C517.5 397.3 512.6 399.8 510.9 400.7C509.2 401.6 508.8 402.9 507.3 402.8C505.8 402.7 501.9 400.0 500.2 399.8C498.5 399.6 496.4 402.2 494.9 401.6C493.4 401.0 491.6 396.9 489.6 395.4C487.6 393.9 483.3 392.1 480.8 391.0C478.3 389.9 474.4 389.0 471.9 387.4C469.4 385.8 465.3 381.2 463.1 379.5C460.9 377.8 457.5 376.0 456.0 375.1C454.5 374.2 453.7 374.3 452.6 373.3C451.5 372.3 448.3 369.9 448.2 368.0C448.1 366.1 450.7 362.1 451.8 360.0C452.9 357.9 454.2 354.4 456.0 352.9Z"/>
<path fill="#ffff00" d="M466.6 368.0C466.4 366.5 468.7 363.9 470.2 362.7C471.7 361.5 474.7 359.7 477.2 359.1C479.7 358.5 485.2 358.1 487.9 358.2C490.6 358.3 494.2 359.5 496.7 360.0C499.2 360.5 503.1 361.1 505.6 361.8C508.1 362.5 512.2 364.3 514.4 365.3C516.6 366.3 520.0 367.8 521.5 368.9C523.0 370.0 524.6 371.8 525.0 373.3C525.4 374.8 524.6 377.9 524.1 379.5C523.6 381.1 522.9 383.8 521.5 384.8C520.1 385.8 516.6 386.6 514.4 386.9C512.2 387.2 508.1 387.1 505.6 386.6C503.1 386.1 499.2 384.3 496.7 383.4C494.2 382.5 490.4 381.3 487.9 380.4C485.4 379.5 481.2 377.8 479.0 376.8C476.8 375.8 473.6 374.5 471.9 373.3C470.2 372.1 466.8 369.5 466.6 368.0Z"/>
<path fill="#80ff00" d="M553.0 380.4C552.9 379.6 554.4 377.6 555.1 376.8C555.8 376.0 556.8 374.3 557.8 374.5C558.8 374.7 560.4 377.3 562.2 378.1C564.0 378.9 568.5 379.8 571.0 380.4C573.5 381.0 578.2 381.5 579.9 382.1C581.6 382.7 581.8 384.3 583.4 384.8C585.0 385.3 590.2 385.0 591.4 385.7C592.6 386.4 592.9 388.9 592.3 390.1C591.7 391.3 588.9 393.6 587.0 394.5C585.1 395.4 580.5 397.3 579.0 396.8C577.5 396.3 577.8 392.2 576.4 391.0C575.0 389.8 571.3 389.1 569.3 388.3C567.3 387.5 564.1 385.9 562.2 385.1C560.3 384.3 557.3 383.4 556.0 382.7C554.7 382.0 553.1 381.2 553.0 380.4Z"/>
<path fill="#80ff00" d="M530.3 421.6C530.6 420.5 532.9 421.5 533.9 422.0C534.9 422.5 536.2 424.6 537.4 425.5C538.6 426.4 541.0 427.5 542.7 428.2C544.4 428.9 548.4 429.9 549.8 430.8C551.2 431.7 552.7 433.4 553.0 434.5C553.3 435.6 552.5 437.8 551.6 438.9C550.7 440.0 548.0 442.1 546.3 442.5C544.6 442.9 540.9 442.2 539.2 441.6C537.5 441.0 534.9 439.7 533.9 438.1C532.9 436.5 532.6 432.4 532.1 430.1C531.6 427.8 530.0 422.7 530.3 421.6Z"/>
<path fill="#ccff00" d="M536.5 432.8C536.8 431.9 538.9 430.0 540.1 430.1C541.3 430.2 544.6 432.4 545.4 433.3C546.2 434.2 546.3 435.6 545.9 436.3C545.5 437.0 543.8 438.1 542.7 438.1C541.6 438.1 539.2 437.0 538.3 436.3C537.4 435.6 536.2 433.7 536.5 432.8Z"/>
<path fill="#00ffcc" d="M132.5 262.0L136.0 262.0C137.2 261.9 142.3 261.8 144.8 261.5C147.3 261.2 151.2 259.6 153.7 259.7C156.2 259.8 158.8 261.6 162.5 262.0C166.2 262.4 175.2 262.4 180.2 262.6C185.2 262.8 193.4 263.3 197.9 263.3C202.4 263.3 209.4 262.3 212.1 262.6C214.8 262.9 215.2 265.2 217.4 265.6C219.6 266.0 224.5 265.9 228.0 265.6C231.5 265.3 237.7 263.7 242.2 263.3C246.7 262.9 254.9 262.9 259.9 262.6C264.9 262.3 273.9 261.6 277.6 261.2C281.3 260.8 283.8 259.6 286.4 259.4C289.0 259.2 292.7 259.6 296.0 259.7C299.3 259.8 307.0 259.9 310.2 260.3C313.4 260.7 315.3 262.4 319.0 262.6C322.7 262.8 332.5 262.2 336.7 262.0C340.9 261.8 344.9 261.5 349.1 261.5C353.3 261.5 361.8 262.0 366.8 262.0C371.8 262.0 379.5 261.2 384.5 261.2C389.5 261.2 397.2 262.0 402.2 262.0C407.2 262.0 414.9 261.5 419.9 261.5C424.9 261.5 432.5 261.8 437.6 262.0C442.7 262.2 452.2 262.9 456.0 262.9C459.8 262.9 462.8 262.4 464.8 262.0C466.8 261.6 467.7 260.1 470.2 259.7C472.7 259.3 479.0 259.2 482.5 259.0C486.0 258.8 491.7 258.4 494.9 258.0C498.1 257.6 502.4 256.1 505.6 256.2C508.8 256.3 513.7 258.3 517.9 258.5C522.1 258.7 530.6 257.6 535.6 257.3C540.6 257.0 549.1 257.1 553.3 256.7C557.5 256.3 562.0 254.9 565.7 254.4C569.4 253.9 576.4 253.7 579.9 253.2C583.4 252.7 587.8 251.1 590.5 250.5C593.2 249.9 597.2 249.0 599.4 249.1C601.6 249.2 604.1 250.7 606.4 251.4C608.7 252.1 612.7 254.0 616.0 254.4C619.3 254.8 625.7 254.6 630.2 254.4C634.7 254.2 643.7 253.0 647.9 253.2C652.1 253.4 656.0 254.9 660.2 255.5C664.4 256.1 672.9 257.5 677.9 257.6C682.9 257.7 690.9 256.5 695.6 256.2C700.3 255.9 707.4 255.3 711.6 255.5C715.8 255.7 721.7 256.9 725.7 257.3C729.7 257.7 735.4 258.2 739.9 258.5C744.4 258.8 755.1 259.3 757.6 259.4L771.8 259.0L771.8 297.4L750.5 298.0C749.0 297.9 740.4 297.1 739.9 297.4C739.4 297.7 746.5 298.9 747.0 300.1C747.5 301.3 744.9 305.1 743.4 306.3C741.9 307.5 738.9 307.9 736.4 308.9C733.9 309.9 728.7 312.8 725.7 313.4C722.7 314.0 717.1 314.0 715.1 313.4C713.1 312.8 713.6 309.9 711.6 308.9C709.6 307.9 704.0 307.1 701.0 306.3C698.0 305.5 692.8 304.2 690.3 303.3C687.8 302.4 685.3 300.4 683.3 300.1C681.3 299.8 678.7 301.2 676.2 301.0C673.7 300.8 669.1 299.0 665.6 298.7C662.1 298.4 655.4 298.6 651.4 298.7C647.4 298.8 640.7 299.7 637.2 299.7C633.7 299.7 629.2 298.9 626.6 298.7C624.0 298.5 620.2 297.6 618.7 298.3C617.2 299.0 617.2 302.8 616.0 304.0C614.8 305.2 611.1 306.0 610.0 307.2C608.9 308.4 608.8 311.0 608.2 312.5C607.6 314.0 607.1 316.9 605.6 317.8C604.1 318.7 600.0 318.8 597.6 318.7C595.2 318.6 591.4 317.0 588.7 317.4C586.0 317.8 581.3 320.9 578.1 321.3C574.9 321.7 569.2 320.7 565.7 320.5C562.2 320.3 556.5 319.9 553.3 319.6C550.1 319.3 544.7 318.3 542.7 318.7C540.7 319.1 540.4 321.8 539.2 322.2C538.0 322.6 534.4 320.4 533.9 321.3C533.4 322.2 535.6 326.9 535.6 328.4C535.6 329.9 535.6 331.4 533.9 332.0C532.2 332.6 524.9 332.3 523.3 332.8C521.7 333.3 523.4 335.0 522.4 335.5C521.4 336.0 518.3 336.5 516.2 336.4C514.1 336.3 509.2 335.2 507.3 334.6C505.4 334.0 504.1 332.1 502.9 332.0C501.7 331.9 500.1 333.3 498.5 333.7C496.9 334.1 493.1 335.0 491.4 334.6C489.7 334.2 487.8 331.2 486.1 330.5C484.4 329.8 481.7 329.9 479.0 329.8C476.3 329.7 468.0 330.2 466.6 329.8C465.2 329.4 469.8 327.7 469.3 327.0C468.8 326.3 465.0 325.6 463.1 324.9C461.2 324.2 458.1 322.9 456.0 322.2C453.9 321.5 448.8 320.5 448.2 319.6C447.6 318.7 452.5 316.8 451.8 316.0C451.1 315.2 445.4 314.0 442.9 313.9C440.4 313.8 435.3 315.7 434.1 315.1C432.9 314.5 434.9 311.0 434.1 309.8C433.3 308.6 430.7 306.7 428.7 306.3C426.7 305.9 422.6 306.8 419.9 307.2C417.2 307.6 411.8 308.0 409.3 308.9C406.8 309.8 404.7 313.0 402.2 313.9C399.7 314.8 394.1 314.3 391.6 315.1C389.1 315.9 387.0 319.3 384.5 319.9C382.0 320.5 374.6 320.0 373.9 319.6C373.2 319.2 377.6 317.5 379.2 316.9C380.8 316.3 384.9 315.8 385.4 315.1C385.9 314.4 384.1 312.2 382.7 312.1C381.3 312.0 377.8 313.6 375.6 314.3C373.4 315.0 369.3 316.5 366.8 316.9C364.3 317.3 360.9 317.2 357.9 316.9C354.9 316.6 349.3 315.5 345.6 315.1C341.9 314.7 335.1 314.7 331.4 314.3C327.7 313.9 322.0 312.5 319.0 312.1C316.0 311.7 313.4 311.2 310.2 311.1C307.0 311.0 300.6 311.5 296.0 311.6C291.4 311.7 282.7 311.9 277.6 311.6C272.5 311.3 262.9 309.6 259.9 309.3C256.9 309.0 257.0 309.5 256.0 309.5C255.0 309.5 254.0 309.9 253.1 309.5C252.2 309.1 250.8 307.4 249.4 307.0C248.0 306.6 244.8 306.6 243.3 307.0C241.8 307.4 240.2 309.4 238.5 310.1C236.8 310.8 233.1 311.9 231.2 311.9C229.3 311.9 226.6 310.3 225.1 310.1C223.6 309.9 221.3 310.2 220.8 310.7C220.3 311.2 220.6 312.9 221.4 313.7C222.2 314.5 224.9 315.7 226.3 316.2C227.7 316.7 229.8 317.1 231.2 317.4C232.6 317.7 234.8 318.2 236.0 318.0C237.2 317.8 238.8 316.3 239.7 316.2C240.6 316.1 241.9 317.0 242.1 317.4C242.3 317.8 241.6 318.4 240.9 319.2C240.2 320.0 237.7 321.9 237.2 322.8C236.7 323.7 236.7 325.3 237.2 325.9C237.7 326.5 240.1 326.6 240.9 327.1C241.7 327.6 243.0 328.9 242.7 329.5C242.4 330.1 239.8 331.0 238.5 331.4C237.2 331.8 235.1 331.8 233.6 332.6C232.1 333.4 228.7 336.8 227.5 337.4C226.3 338.0 225.2 337.4 225.1 336.8C225.0 336.2 227.1 334.1 226.9 333.2C226.7 332.3 225.3 330.6 223.9 330.1C222.5 329.6 218.3 329.1 216.6 329.5C214.9 329.9 213.1 332.4 211.7 332.6C210.3 332.8 207.8 331.3 206.8 330.8C205.8 330.3 204.4 329.7 204.4 328.9C204.4 328.1 205.8 326.2 206.8 325.3C207.8 324.4 210.7 323.0 211.7 322.2C212.7 321.4 214.4 320.5 214.1 319.8C213.8 319.1 210.3 317.5 209.3 317.4C208.3 317.3 207.5 318.5 206.8 319.2C206.1 319.9 205.4 321.5 204.4 322.2C203.4 322.9 201.0 323.6 199.5 324.1C198.0 324.6 194.6 325.2 193.4 325.9C192.2 326.6 192.0 328.0 191.0 328.9C190.0 329.8 187.8 331.6 186.1 332.0C184.4 332.4 181.3 332.4 178.8 332.0C176.3 331.6 169.9 329.7 167.9 328.9C165.9 328.1 166.2 327.0 164.2 326.5C162.2 326.0 155.2 325.7 153.3 325.3C151.4 324.9 149.6 324.4 150.3 323.5C151.0 322.6 155.6 319.3 158.2 318.6C160.8 317.9 167.2 318.9 169.1 318.6C171.0 318.3 170.0 317.3 171.5 316.8C173.0 316.3 178.6 314.8 180.1 314.9C181.6 315.0 182.3 316.8 182.5 317.4C182.7 318.0 180.4 318.9 181.3 319.2C182.2 319.5 187.2 319.6 188.6 319.2C190.0 318.8 190.1 317.2 191.0 316.2C191.9 315.2 193.5 312.6 194.7 311.9C195.9 311.2 198.5 311.6 199.5 311.3C200.5 311.0 201.5 310.3 202.0 309.5C202.5 308.7 202.7 306.6 203.2 305.8C203.7 305.0 205.4 304.5 205.6 304.0C205.8 303.5 205.3 302.8 204.4 302.2C203.5 301.6 201.9 300.1 199.5 299.7C197.1 299.3 189.4 299.3 187.4 299.7C185.4 300.1 185.6 301.5 185.5 302.2C185.4 302.9 186.0 304.2 186.8 304.6C187.6 305.0 189.9 304.4 191.0 304.8C192.1 305.2 194.4 306.8 194.7 307.3C195.0 307.8 193.7 308.6 192.8 308.5C191.9 308.4 189.7 307.0 188.6 306.4C187.5 305.8 185.8 305.0 184.9 304.4C184.0 303.8 184.6 302.2 182.5 301.8C180.4 301.4 171.6 301.9 169.7 301.6C167.8 301.3 168.3 300.1 168.9 299.5C169.5 298.9 173.8 297.7 173.7 297.5C173.6 297.3 171.8 297.8 167.9 297.9C164.0 298.0 150.5 297.8 146.0 297.9C141.5 298.0 137.4 298.2 136.0 298.3L132.5 298.3L132.5 262.0Z"/>
<path fill="#00ff80" d="M222.0 321.9C223.1 321.7 228.8 321.7 229.9 321.9C231.0 322.1 231.0 323.3 229.9 323.5C228.8 323.7 223.1 323.7 222.0 323.5C220.9 323.3 220.9 322.1 222.0 321.9Z"/>
<path fill="#00ff80" d="M175.2 325.9C175.5 325.6 178.8 325.8 179.1 326.1C179.4 326.4 177.5 328.0 177.0 328.0C176.5 328.0 174.9 326.2 175.2 325.9Z"/>
<path fill="#00ff80" d="M160.4 322.6C160.9 322.4 163.7 322.4 164.2 322.6C164.7 322.8 164.7 323.6 164.2 323.8C163.7 324.0 160.9 324.0 160.4 323.8C159.9 323.6 159.9 322.8 160.4 322.6Z"/>
<path fill="#00ff80" d="M487.5 313.4C488.1 312.8 492.6 312.9 494.1 313.4C495.6 313.9 496.7 316.2 498.5 316.9C500.3 317.6 505.2 317.9 507.3 318.7C509.4 319.5 513.2 321.7 513.5 322.8C513.8 323.9 511.0 325.9 509.1 326.6C507.2 327.3 502.4 327.8 500.2 328.1C498.0 328.4 494.4 328.1 493.5 328.8C492.6 329.5 494.8 332.7 494.1 333.4C493.4 334.1 489.7 334.2 488.7 333.7C487.7 333.2 486.6 330.9 487.0 329.8C487.4 328.7 490.6 327.0 491.4 325.8C492.2 324.6 493.0 322.4 492.8 321.3C492.6 320.2 490.7 318.9 490.0 317.8C489.3 316.7 486.9 314.0 487.5 313.4Z"/>
<path fill="#00ff80" d="M479.0 316.4C479.4 315.9 481.6 315.6 482.5 316.0C483.4 316.4 485.1 318.9 485.2 319.6C485.3 320.3 484.1 321.3 483.4 321.3C482.7 321.3 480.5 320.6 479.9 319.9C479.3 319.2 478.6 316.9 479.0 316.4Z"/>
<path fill="#00ffcc" d="M498.5 339.9C498.5 339.5 503.0 336.9 503.8 336.9C504.6 336.9 504.8 339.5 504.1 339.9C503.4 340.3 498.5 340.3 498.5 339.9Z"/>
<path fill="#00ffcc" d="M526.8 339.9C526.8 339.3 532.5 336.5 533.9 336.4C535.3 336.3 536.5 338.4 536.5 339.0C536.5 339.6 535.3 340.7 533.9 340.8C532.5 340.9 526.8 340.5 526.8 339.9Z"/>
<path fill="#00ffff" d="M214.8 291.2C215.3 290.6 218.9 288.8 221.0 288.1C223.1 287.4 228.3 286.1 229.8 286.3C231.3 286.5 229.9 289.7 231.6 289.5C233.3 289.3 239.7 286.2 242.2 285.1C244.7 284.0 247.7 282.0 249.3 281.5C250.9 281.0 253.2 280.5 253.7 281.5C254.2 282.5 251.9 288.0 252.8 288.6C253.7 289.2 257.9 286.3 259.9 285.9C261.9 285.5 265.0 285.1 267.0 285.6C269.0 286.1 272.5 288.3 274.1 289.5C275.7 290.7 278.3 293.0 278.5 293.9C278.7 294.8 277.9 295.7 275.8 295.7C273.7 295.7 266.6 293.7 263.4 293.9C260.2 294.1 255.8 297.1 252.8 297.4C249.8 297.7 245.2 295.8 242.2 295.7C239.2 295.6 234.1 296.9 231.6 296.6C229.1 296.3 226.5 293.9 224.5 293.4C222.5 292.9 218.8 293.0 217.4 292.7C216.0 292.4 214.3 291.8 214.8 291.2Z"/>
<path fill="#00ffff" d="M342.4 278.5C342.7 277.7 346.2 275.6 349.1 275.0C352.0 274.4 359.8 274.4 363.3 274.4C366.8 274.4 371.7 274.6 373.9 275.3C376.1 276.0 377.2 279.0 379.2 279.7C381.2 280.4 385.3 280.3 388.0 280.6C390.7 280.9 396.5 280.9 398.7 281.5C400.9 282.1 404.5 284.2 404.0 285.1C403.5 286.0 397.6 287.5 395.1 287.7C392.6 287.9 388.8 287.5 386.3 286.8C383.8 286.1 380.1 282.9 377.4 282.4C374.7 281.9 370.0 283.2 366.8 283.3C363.6 283.4 357.1 283.7 354.4 283.3C351.7 282.9 349.0 281.3 347.3 280.6C345.6 279.9 342.1 279.3 342.4 278.5Z"/>
<path fill="#00ffff" d="M404.8 288.1C403.8 286.7 407.2 281.1 409.3 279.7C411.4 278.3 416.9 278.1 419.9 278.0C422.9 277.9 427.5 278.8 430.5 278.9C433.5 279.0 438.4 278.9 441.1 278.5C443.8 278.1 447.9 276.6 450.0 276.2C452.1 275.8 454.2 275.8 456.0 275.3C457.8 274.8 460.1 273.3 463.1 272.7C466.1 272.1 473.2 271.2 477.2 270.9C481.2 270.6 487.4 270.5 491.4 270.4C495.4 270.3 501.9 270.4 505.6 270.0C509.3 269.6 513.7 268.1 517.9 267.9C522.1 267.7 530.6 268.3 535.6 268.6C540.6 268.9 549.1 269.7 553.3 269.7C557.5 269.7 562.7 268.9 565.7 268.6C568.7 268.3 572.6 267.3 574.6 267.9C576.6 268.5 578.4 271.5 579.9 272.7C581.4 273.9 583.2 275.0 585.2 276.2C587.2 277.4 593.8 280.6 594.1 281.5C594.4 282.4 589.5 282.1 587.0 282.4C584.5 282.7 578.9 283.0 576.4 283.3C573.9 283.6 570.8 283.8 569.3 284.5C567.8 285.2 567.4 286.9 565.7 288.1C564.0 289.3 559.4 292.8 556.9 293.4C554.4 294.0 550.5 292.2 548.0 292.1C545.5 292.0 541.7 292.4 539.2 292.7C536.7 293.0 532.8 293.8 530.3 293.9C527.8 294.0 523.7 294.0 521.5 293.4C519.3 292.8 516.6 290.2 514.4 289.5C512.2 288.8 508.1 288.6 505.6 288.6C503.1 288.6 499.2 289.1 496.7 289.5C494.2 289.9 490.6 291.0 487.9 291.2C485.2 291.4 480.2 290.7 477.2 290.9C474.2 291.1 469.6 292.3 466.6 292.7C463.6 293.1 458.1 292.9 456.0 293.4C453.9 293.9 453.1 296.0 451.8 296.6C450.5 297.2 447.6 298.3 446.4 298.0C445.2 297.7 442.9 295.8 442.9 294.8C442.9 293.8 447.1 291.8 446.4 291.2C445.7 290.6 440.3 290.4 437.6 290.4C434.9 290.4 430.0 291.0 427.0 290.9C424.0 290.8 419.5 289.9 416.4 289.5C413.3 289.1 405.8 289.5 404.8 288.1Z"/>
<path fill="#00ffcc" d="M517.1 278.5C517.2 277.9 519.7 279.4 521.5 279.7C523.3 280.0 527.6 280.2 530.3 280.3C533.0 280.4 539.6 280.0 541.0 280.6C542.4 281.2 541.3 283.7 540.1 284.5C538.9 285.3 534.2 286.0 532.1 286.3C530.0 286.6 526.6 287.1 525.0 286.8C523.4 286.5 521.7 285.4 520.6 284.2C519.5 283.0 517.0 279.1 517.1 278.5Z"/>
<path fill="#00ffff" d="M528.2 304.5C528.7 303.8 531.9 301.7 533.9 301.0C535.9 300.3 540.7 299.8 542.7 299.2C544.7 298.6 546.6 297.0 548.0 296.6C549.4 296.2 552.0 296.1 552.5 296.6C553.0 297.1 552.7 299.2 551.6 300.1C550.5 301.0 546.7 302.5 544.5 303.3C542.3 304.1 537.6 305.4 535.6 305.8C533.6 306.2 531.3 306.0 530.3 305.8C529.3 305.6 527.7 305.2 528.2 304.5Z"/>
<path fill="#00ffff" d="M719.5 278.5C720.4 278.2 725.7 277.8 726.6 278.0C727.5 278.2 726.6 279.4 725.7 279.7C724.8 280.0 721.3 280.3 720.4 280.1C719.5 279.9 718.6 278.8 719.5 278.5Z"/>
<path fill="#00ffcc" d="M307.5 360.9C307.2 359.9 310.5 357.4 311.9 356.5C313.3 355.6 316.0 354.5 317.2 354.7C318.4 354.9 319.8 357.0 320.8 358.2C321.8 359.4 323.7 362.3 324.3 363.5C324.9 364.7 325.7 366.7 325.2 367.1C324.7 367.5 322.4 366.7 320.8 366.2C319.2 365.7 315.6 364.2 313.7 363.5C311.8 362.8 307.8 361.9 307.5 360.9Z"/>
<path fill="#00ffcc" d="M332.3 379.5C332.3 378.1 333.5 374.4 334.9 373.3C336.3 372.2 339.8 371.9 342.0 371.5C344.2 371.1 348.7 371.2 350.9 370.6C353.1 370.0 355.9 368.1 357.9 367.1C359.9 366.1 363.8 364.7 365.0 363.5C366.2 362.3 365.8 359.6 366.8 358.2C367.8 356.8 370.1 354.8 372.1 353.8C374.1 352.8 378.8 352.3 381.0 351.2C383.2 350.1 387.3 347.0 388.0 345.8C388.7 344.6 385.3 343.4 386.3 342.6C387.3 341.8 392.4 340.5 395.1 339.9C397.8 339.3 402.2 338.3 405.7 338.2C409.2 338.1 417.7 338.3 419.9 339.0C422.1 339.7 421.3 343.0 421.7 343.5C422.1 344.0 423.0 342.0 422.5 342.3C422.0 342.6 419.7 344.9 418.1 345.8C416.5 346.7 412.5 347.4 411.0 348.5C409.5 349.6 409.0 352.7 407.5 353.8C406.0 354.9 401.6 355.1 400.4 356.5C399.2 357.9 399.4 361.8 398.7 363.5C398.0 365.2 396.1 367.3 395.1 368.9C394.1 370.5 393.1 373.7 391.6 375.1C390.1 376.5 386.2 377.6 384.5 378.6C382.8 379.6 379.8 381.0 379.2 382.1C378.6 383.2 378.9 385.9 380.1 386.6C381.3 387.3 386.0 386.8 388.0 387.4C390.0 388.0 393.6 389.5 394.2 391.0C394.8 392.5 392.9 396.2 392.5 398.1C392.1 400.0 391.2 402.9 391.6 404.3C392.0 405.7 394.7 406.6 395.1 407.8C395.5 409.0 395.7 412.3 394.2 413.1C392.7 413.9 386.9 414.0 384.5 413.5C382.1 413.0 378.6 410.8 377.4 409.6C376.2 408.4 375.5 406.6 375.6 405.1C375.7 403.6 378.5 400.5 378.3 398.9C378.1 397.3 375.5 394.8 373.9 393.6C372.3 392.4 369.0 390.6 366.8 390.1C364.6 389.6 360.4 390.4 357.9 390.1C355.4 389.8 351.6 388.9 349.1 388.3C346.6 387.7 342.2 386.4 340.2 385.7C338.2 385.0 336.0 383.9 334.9 383.0C333.8 382.1 332.3 380.9 332.3 379.5Z"/>
<path fill="#00ffff" d="M371.2 359.1C371.3 358.1 372.5 355.4 373.9 354.7C375.3 354.0 379.1 353.5 381.0 353.8C382.9 354.1 386.7 355.6 387.2 356.5C387.7 357.4 385.9 359.1 384.5 360.0C383.1 360.9 379.0 362.4 377.4 362.7C375.8 363.0 373.9 362.3 373.0 361.8C372.1 361.3 371.1 360.1 371.2 359.1Z"/>
<path fill="#00ffff" d="M359.7 369.7C359.8 368.7 362.4 367.4 364.1 367.1C365.8 366.8 371.7 366.8 372.1 367.4C372.5 368.0 368.0 370.5 366.8 371.5C365.6 372.5 364.3 374.5 363.3 374.2C362.3 373.9 359.6 370.7 359.7 369.7Z"/>
<path fill="#00ffff" d="M365.0 386.6C365.4 386.1 367.6 384.8 368.6 384.8C369.6 384.8 372.0 386.0 372.1 386.6C372.2 387.2 370.4 388.9 369.5 389.2C368.6 389.5 366.5 389.1 365.9 388.7C365.3 388.3 364.6 387.1 365.0 386.6Z"/>
<path fill="#00ffff" d="M391.6 345.0C392.0 344.5 395.1 343.9 396.0 344.4C396.9 344.9 398.7 348.0 398.3 348.5C397.9 349.0 394.2 348.5 393.3 348.0C392.4 347.5 391.2 345.5 391.6 345.0Z"/>
<path fill="#00ffcc" d="M359.7 402.5C359.5 401.6 361.3 399.9 362.4 399.8C363.5 399.7 366.7 400.9 367.7 401.6C368.7 402.3 370.0 404.5 369.5 405.1C369.0 405.7 365.5 406.4 364.1 406.0C362.7 405.6 359.9 403.4 359.7 402.5Z"/>
<path fill="#00ffcc" d="M432.3 442.5C431.8 441.5 433.1 439.7 434.1 438.1C435.1 436.5 437.9 432.7 439.4 430.8C440.9 428.9 443.2 426.2 444.7 424.6C446.2 423.0 448.4 420.5 450.0 419.3C451.6 418.1 454.4 416.4 456.0 416.3C457.6 416.2 460.2 417.5 461.3 418.6C462.4 419.7 463.5 422.3 464.0 423.9C464.5 425.5 464.2 428.4 464.8 430.1C465.4 431.8 467.2 435.0 468.4 436.3C469.6 437.6 471.7 439.0 473.7 439.3C475.7 439.6 480.0 438.4 482.5 438.1C485.0 437.8 488.9 437.2 491.4 437.2C493.9 437.2 498.0 437.7 500.2 438.1C502.4 438.5 505.8 438.9 507.3 439.8C508.8 440.7 509.4 443.6 510.9 444.3C512.4 445.0 516.4 444.4 517.9 445.1C519.4 445.8 520.3 448.6 521.5 449.6C522.7 450.6 524.8 451.8 526.8 452.2C528.8 452.6 533.1 451.8 535.6 452.2C538.1 452.6 542.5 454.2 544.5 454.9C546.5 455.6 549.8 456.5 549.8 457.5C549.8 458.5 546.0 460.8 544.5 462.0C543.0 463.2 539.9 465.8 539.2 466.4L533.9 476.1L469.3 476.1L468.4 466.4C468.0 465.5 466.7 461.9 465.7 460.2C464.7 458.5 462.7 455.4 461.3 454.0C459.9 452.6 458.1 451.4 456.0 450.5C453.9 449.6 449.0 448.6 446.4 447.8C443.8 447.0 439.6 445.8 437.6 445.1C435.6 444.4 432.8 443.5 432.3 442.5Z"/>
<path fill="#00ffff" d="M479.9 476.1L480.8 462.0C481.3 461.0 482.8 456.4 484.3 454.9C485.8 453.4 488.9 451.9 491.4 451.3C493.9 450.7 499.8 450.1 502.0 450.5C504.2 450.9 505.8 452.9 507.3 454.0C508.8 455.1 510.6 457.3 512.6 458.4C514.6 459.5 519.5 460.9 521.5 461.6C523.5 462.3 526.5 462.8 526.8 463.7C527.1 464.6 523.8 467.6 523.3 468.2L519.7 476.1L479.9 476.1Z"/>
<path fill="#00ffcc" d="M217.4 433.6C217.1 432.2 218.2 429.7 219.2 428.3C220.2 426.9 222.8 425.4 224.5 423.9C226.2 422.4 229.6 419.4 231.6 417.7C233.6 416.0 236.7 413.0 238.7 411.5C240.7 410.0 243.7 408.0 245.7 407.1C247.7 406.2 251.6 404.9 252.8 405.3C254.0 405.7 254.3 408.2 254.2 409.7C254.1 411.2 251.6 414.3 251.9 415.9C252.2 417.5 255.3 419.5 256.4 421.2C257.5 422.9 259.3 426.6 259.9 428.3C260.5 430.0 261.1 432.0 260.8 433.6C260.5 435.2 259.5 438.5 258.1 439.8C256.7 441.1 253.5 442.3 251.0 442.8C248.5 443.3 243.4 443.6 240.4 443.4C237.4 443.2 232.5 442.3 229.8 441.6C227.1 440.9 222.7 439.2 221.0 438.1C219.3 437.0 217.7 435.0 217.4 433.6Z"/>
<path fill="#00ffcc" d="M132.5 446.9L144.8 447.8C146.0 447.9 151.2 448.8 153.7 448.7C156.2 448.6 160.0 447.6 162.5 446.9C165.0 446.2 169.2 444.4 171.4 443.4C173.6 442.4 176.8 440.1 178.5 439.8C180.2 439.5 182.4 440.6 183.8 441.6C185.2 442.6 187.3 445.3 188.2 446.9C189.1 448.5 189.9 451.2 190.0 453.1C190.1 455.0 190.5 458.7 189.1 460.2C187.7 461.7 182.7 462.7 180.2 463.7C177.7 464.7 172.6 466.8 171.4 467.3L166.1 476.1L132.5 476.1L132.5 446.9Z"/>
<path fill="#00ffff" d="M132.5 456.6L146.6 457.5C148.3 457.4 155.7 456.7 159.0 456.6C162.3 456.5 168.8 456.5 170.5 457.0C172.2 457.5 171.8 459.0 171.4 460.2C171.0 461.4 168.9 464.1 167.9 465.5C166.9 466.9 164.8 469.3 164.3 469.9L162.5 476.1L132.5 476.1L132.5 456.6Z"/>
<path fill="#00ffcc" d="M272.3 476.1L274.1 465.5C274.6 464.5 276.4 460.1 277.6 458.4C278.8 456.7 281.2 454.2 282.9 453.1C284.6 452.0 288.2 451.2 290.0 450.5C291.8 449.8 293.7 448.1 296.0 447.8C298.3 447.5 303.4 448.1 306.6 448.2C309.8 448.3 316.1 448.3 319.0 448.7C321.9 449.1 325.6 450.2 327.0 451.3C328.4 452.4 327.8 455.4 328.7 456.6C329.6 457.8 332.2 459.0 333.2 460.2C334.2 461.4 335.7 464.3 335.8 465.5C335.9 466.7 334.3 468.5 334.1 469.0L331.4 476.1L272.3 476.1Z"/>
<path fill="#00ffff" d="M277.6 476.1L280.2 465.5C280.8 464.8 283.1 461.4 284.7 460.2C286.3 459.0 290.2 457.1 291.8 456.6C293.4 456.1 294.2 456.6 296.0 456.6C297.8 456.6 302.1 456.2 304.8 456.3C307.5 456.4 313.0 456.6 315.5 457.0C318.0 457.4 321.0 458.4 322.5 459.3C324.0 460.2 325.8 462.6 326.1 463.7C326.4 464.8 324.6 466.8 324.3 467.3L319.9 476.1L277.6 476.1Z"/>
<path fill="#00aaff" d="M296.2 467.5C296.1 466.9 297.0 465.5 298.0 465.2C299.0 464.9 302.0 464.9 303.0 465.2C304.0 465.5 304.9 466.9 304.8 467.5C304.7 468.1 302.9 468.9 302.5 469.6C302.1 470.3 302.2 472.1 301.6 472.5C301.0 472.9 298.4 472.9 298.0 472.5C297.6 472.1 298.8 470.5 298.5 469.8C298.2 469.1 296.3 468.1 296.2 467.5Z"/>
<path fill="#00ffcc" d="M633.7 388.3C633.8 387.2 636.0 384.8 637.2 383.4C638.4 382.0 641.3 380.3 642.5 378.6C643.7 376.9 645.1 372.6 646.1 371.5C647.1 370.4 648.4 370.1 649.6 370.6C650.8 371.1 652.9 374.1 654.9 375.1C656.9 376.2 661.8 377.8 663.8 378.1C665.8 378.4 667.4 377.9 669.1 377.4C670.8 376.9 674.0 375.2 676.2 374.2C678.4 373.2 682.8 372.0 685.0 370.6C687.2 369.2 690.5 366.5 692.1 364.4C693.7 362.3 695.5 358.2 696.5 355.6C697.5 353.0 698.3 347.8 699.2 345.8C700.1 343.8 701.0 342.3 702.7 341.4C704.4 340.5 709.4 339.5 711.6 339.1C713.8 338.7 716.6 338.2 718.7 338.8C720.8 339.4 725.9 341.2 726.6 343.2C727.3 345.2 724.6 350.3 724.0 352.9C723.4 355.5 722.1 359.6 722.2 361.8C722.3 364.0 724.3 366.9 724.8 368.9C725.3 370.9 725.9 373.7 725.7 375.9C725.5 378.1 723.8 382.6 723.1 384.8C722.4 387.0 721.8 390.4 720.4 391.9C719.0 393.4 715.5 394.8 713.3 395.4C711.1 396.0 706.9 396.3 704.5 396.3C702.1 396.3 698.2 396.0 696.5 395.4C694.8 394.8 693.5 392.5 692.1 391.9C690.7 391.3 688.5 391.0 686.8 391.0C685.1 391.0 681.7 392.3 679.7 392.2C677.7 392.1 674.5 390.8 672.6 390.1C670.7 389.4 667.5 387.1 666.4 387.4C665.3 387.7 665.1 390.5 664.7 391.9C664.3 393.3 664.7 396.5 663.8 397.2C662.9 397.9 660.0 397.7 658.5 397.2C657.0 396.7 654.4 394.7 653.2 393.6C652.0 392.5 650.7 390.3 649.6 389.2C648.5 388.1 646.4 385.6 645.2 385.7C644.0 385.8 642.0 389.4 640.8 390.1C639.6 390.8 637.4 391.3 636.4 391.0C635.4 390.7 633.6 389.4 633.7 388.3Z"/>
<path fill="#00ffff" d="M677.1 381.2C676.8 380.4 677.8 378.6 678.8 378.1C679.8 377.6 682.9 377.2 684.1 377.4C685.3 377.6 686.9 378.7 687.2 379.5C687.5 380.3 686.8 382.8 685.9 383.4C685.0 384.0 681.8 384.2 680.6 383.9C679.4 383.6 677.4 382.0 677.1 381.2Z"/>
<path fill="#00ffcc" d="M757.6 476.1L758.5 454.9C758.9 454.0 760.7 449.6 761.1 448.7L771.8 445.1L771.8 476.1L757.6 476.1Z"/>
<path fill="#00ffff" d="M764.7 476.1L765.6 465.5L771.8 460.2L771.8 476.1L764.7 476.1Z"/>
<path fill="#00ffcc" d="M624.8 258.8C620.8 258.2 630.5 255.0 633.7 254.3C636.9 253.6 644.7 253.4 647.9 253.5C651.1 253.6 654.7 254.5 656.7 255.2C658.7 255.9 666.5 258.3 662.0 258.8C657.5 259.3 628.8 259.4 624.8 258.8Z"/>
<path fill="#00ff00" d="M673.5 229.2C674.0 228.8 677.8 228.2 679.7 228.2C681.6 228.2 685.1 229.0 686.8 229.2C688.5 229.4 690.9 229.2 692.1 229.9C693.3 230.6 695.9 233.5 695.6 234.0C695.3 234.5 692.0 233.9 690.3 233.5C688.6 233.1 685.3 231.7 683.3 231.3C681.3 231.0 677.6 231.3 676.2 231.0C674.8 230.7 673.0 229.6 673.5 229.2Z"/>
<path fill="#00ff80" d="M678.8 217.2C679.4 217.0 682.7 217.0 683.3 217.2C683.9 217.4 683.9 218.7 683.3 218.9C682.7 219.1 679.4 219.1 678.8 218.9C678.2 218.7 678.2 217.4 678.8 217.2Z"/>
</g>
<g fill="#000" shape-rendering="crispEdges">
<rect x="160" y="158" width="1" height="4"/>
<rect x="160" y="469" width="1" height="3"/>
<rect x="184" y="158" width="2" height="9"/>
<rect x="184" y="463" width="2" height="9"/>
<rect x="211" y="158" width="1" height="4"/>
<rect x="211" y="469" width="1" height="3"/>
<rect x="235" y="158" width="2" height="9"/>
<rect x="235" y="463" width="2" height="9"/>
<rect x="261" y="158" width="1" height="4"/>
<rect x="261" y="469" width="1" height="3"/>
<rect x="286" y="158" width="2" height="9"/>
<rect x="286" y="463" width="2" height="9"/>
<rect x="312" y="158" width="1" height="4"/>
<rect x="312" y="469" width="1" height="3"/>
<rect x="337" y="158" width="2" height="9"/>
<rect x="337" y="463" width="2" height="9"/>
<rect x="363" y="158" width="1" height="4"/>
<rect x="363" y="469" width="1" height="3"/>
<rect x="387" y="158" width="2" height="9"/>
<rect x="387" y="463" width="2" height="9"/>
<rect x="414" y="158" width="1" height="4"/>
<rect x="414" y="469" width="1" height="3"/>
<rect x="438" y="158" width="2" height="9"/>
<rect x="438" y="463" width="2" height="9"/>
<rect x="465" y="158" width="1" height="4"/>
<rect x="465" y="469" width="1" height="3"/>
<rect x="489" y="158" width="2" height="9"/>
<rect x="489" y="463" width="2" height="9"/>
<rect x="516" y="158" width="1" height="4"/>
<rect x="516" y="469" width="1" height="3"/>
<rect x="540" y="158" width="2" height="9"/>
<rect x="540" y="463" width="2" height="9"/>
<rect x="566" y="158" width="1" height="4"/>
<rect x="566" y="469" width="1" height="3"/>
<rect x="591" y="158" width="2" height="9"/>
<rect x="591" y="463" width="2" height="9"/>
<rect x="617" y="158" width="1" height="4"/>
<rect x="617" y="469" width="1" height="3"/>
<rect x="642" y="158" width="2" height="9"/>
<rect x="642" y="463" width="2" height="9"/>
<rect x="668" y="158" width="1" height="4"/>
<rect x="668" y="469" width="1" height="3"/>
<rect x="692" y="158" width="2" height="9"/>
<rect x="692" y="463" width="2" height="9"/>
<rect x="719" y="158" width="1" height="4"/>
<rect x="719" y="469" width="1" height="3"/>
<rect x="743" y="158" width="2" height="9"/>
<rect x="743" y="463" width="2" height="9"/>
<rect x="137" y="459" width="4" height="1"/>
<rect x="764" y="459" width="3" height="1"/>
<rect x="137" y="443" width="4" height="1"/>
<rect x="764" y="443" width="3" height="1"/>
<rect x="137" y="427" width="4" height="1"/>
<rect x="764" y="427" width="3" height="1"/>
<rect x="137" y="411" width="4" height="1"/>
<rect x="764" y="411" width="3" height="1"/>
<rect x="137" y="394" width="8" height="2"/>
<rect x="759" y="394" width="8" height="2"/>
<rect x="137" y="379" width="4" height="1"/>
<rect x="764" y="379" width="3" height="1"/>
<rect x="137" y="363" width="4" height="1"/>
<rect x="764" y="363" width="3" height="1"/>
<rect x="137" y="347" width="4" height="1"/>
<rect x="764" y="347" width="3" height="1"/>
<rect x="137" y="331" width="4" height="1"/>
<rect x="764" y="331" width="3" height="1"/>
<rect x="137" y="314" width="8" height="2"/>
<rect x="759" y="314" width="8" height="2"/>
<rect x="137" y="299" width="4" height="1"/>
<rect x="764" y="299" width="3" height="1"/>
<rect x="137" y="283" width="4" height="1"/>
<rect x="764" y="283" width="3" height="1"/>
<rect x="137" y="267" width="4" height="1"/>
<rect x="764" y="267" width="3" height="1"/>
<rect x="137" y="251" width="4" height="1"/>
<rect x="764" y="251" width="3" height="1"/>
<rect x="137" y="234" width="8" height="2"/>
<rect x="759" y="234" width="8" height="2"/>
<rect x="137" y="219" width="4" height="1"/>
<rect x="764" y="219" width="3" height="1"/>
<rect x="137" y="203" width="4" height="1"/>
<rect x="764" y="203" width="3" height="1"/>
<rect x="137" y="187" width="4" height="1"/>
<rect x="764" y="187" width="3" height="1"/>
<rect x="137" y="171" width="4" height="1"/>
<rect x="764" y="171" width="3" height="1"/>
</g>
<rect x="136" y="157" width="632" height="316" fill="none" stroke="#000" stroke-width="2" shape-rendering="crispEdges"/>
<g shape-rendering="crispEdges">
<rect x="784" y="247" width="18" height="11.5" fill="#ff2a2a"/>
<rect x="784" y="258.3" width="18" height="11.5" fill="#ff2a00"/>
<rect x="784" y="269.6" width="18" height="11.5" fill="#ff5500"/>
<rect x="784" y="280.9" width="18" height="11.5" fill="#ff8000"/>
<rect x="784" y="292.2" width="18" height="11.5" fill="#ffaa00"/>
<rect x="784" y="303.5" width="18" height="11.5" fill="#ffd500"/>
<rect x="784" y="314.8" width="18" height="11.5" fill="#ffff00"/>
<rect x="784" y="326.1" width="18" height="11.5" fill="#ccff00"/>
<rect x="784" y="337.4" width="18" height="11.5" fill="#80ff00"/>
<rect x="784" y="348.7" width="18" height="11.5" fill="#00ff00"/>
<rect x="784" y="360" width="18" height="11.5" fill="#00ff80"/>
<rect x="784" y="371.3" width="18" height="11.5" fill="#00ffcc"/>
<rect x="784" y="382.6" width="18" height="11.5" fill="#00ffff"/>
<rect x="784" y="393.9" width="18" height="11.5" fill="#00aaff"/>
<rect x="784" y="405.2" width="18" height="11.5" fill="#0060ff"/>
<rect x="784" y="416.5" width="18" height="11.5" fill="#0030ff"/>
<rect x="784" y="427.8" width="18" height="11.5" fill="#0000ff"/>
<rect x="784" y="439.1" width="18" height="11.5" fill="#0000c0"/>
<rect x="784" y="450.4" width="18" height="11.5" fill="#2000b0"/>
<rect x="784" y="461.7" width="18" height="11.5" fill="#5000b0"/>
<g fill="#000">
<rect x="784" y="258" width="18" height="2"/>
<rect x="784" y="269" width="18" height="2"/>
<rect x="784" y="280" width="18" height="2"/>
<rect x="784" y="292" width="18" height="2"/>
<rect x="784" y="303" width="18" height="2"/>
<rect x="784" y="314" width="18" height="2"/>
<rect x="784" y="325" width="18" height="2"/>
<rect x="784" y="337" width="18" height="2"/>
<rect x="784" y="348" width="18" height="2"/>
<rect x="784" y="359" width="18" height="2"/>
<rect x="784" y="371" width="18" height="2"/>
<rect x="784" y="382" width="18" height="2"/>
<rect x="784" y="393" width="18" height="2"/>
<rect x="784" y="404" width="18" height="2"/>
<rect x="784" y="416" width="18" height="2"/>
<rect x="784" y="427" width="18" height="2"/>
<rect x="784" y="438" width="18" height="2"/>
<rect x="784" y="450" width="18" height="2"/>
<rect x="784" y="461" width="18" height="2"/>
</g>
</g>
<polygon points="784,247 793,206.6 802,247" fill="#ffaaaa" stroke="#000" stroke-width="2" stroke-linejoin="bevel"/>
<polygon points="784,472.6 793,514 802,472.6" fill="#a000a8"/>
<polyline points="784,472.6 793,514.2 802,472.6" fill="none" stroke="#000" stroke-width="2" stroke-linejoin="bevel"/>
<path d="M784 473V247H802V473" fill="none" stroke="#000" stroke-width="2" shape-rendering="crispEdges"/>
<text class="t s5" y="112.8" font-size="27.4"><tspan x="354" letter-spacing="0.7">zonal</tspan> <tspan x="443.6" letter-spacing="-0.1">velocity</tspan></text>
<text class="s3" x="46.5" y="134.5" font-size="17" letter-spacing="0.6">(×1000 m)</text>
<text class="s3" x="683.3" y="517.5" font-size="17" letter-spacing="0.6">(×1000 m)</text>
<text class="t s2" x="778.4" y="168.7" font-size="16" letter-spacing="-0.05">t=1.5804e+06</text>
<text class="t s4" y="546.5" font-size="21.5"><tspan x="378">X</tspan> <tspan x="404.7" letter-spacing="0.75">coordinate</tspan></text>
<text class="t s4" transform="translate(90.5,389) rotate(-90)" font-size="21.5"><tspan x="0">Z</tspan> <tspan x="26.5" letter-spacing="0.75">coordinate</tspan></text>
<g class="s3" font-size="16.5" text-anchor="middle">
<text x="185.6" y="494.6">4</text>
<text x="236.4" y="494.6">8</text>
<text x="287.3" y="494.6">12</text>
<text x="338.1" y="494.6">16</text>
<text x="388.9" y="494.6">20</text>
<text x="439.7" y="494.6">24</text>
<text x="490.5" y="494.6">28</text>
<text x="541.3" y="494.6">32</text>
<text x="592.1" y="494.6">36</text>
<text x="643" y="494.6">40</text>
<text x="693.8" y="494.6">44</text>
<text x="744.6" y="494.6">48</text>
</g>
<g class="s3" font-size="16.5" text-anchor="end">
<text x="127" y="400.2">5</text>
<text x="127" y="320.2">10</text>
<text x="127" y="240.2">15</text>
</g>
<g class="s3" font-size="16.5">
<text x="810.5" y="263.9">36</text>
<text x="810.5" y="297.8">24</text>
<text x="810.5" y="331.7">12</text>
<text x="810.5" y="365.6">0</text>
<text x="809.6" y="399.5" letter-spacing="-0.25">−12</text>
<text x="809.6" y="433.4" letter-spacing="-0.25">−24</text>
<text x="809.6" y="467.3" letter-spacing="-0.25">−36</text>
</g>
</svg>
</body>
</html>
